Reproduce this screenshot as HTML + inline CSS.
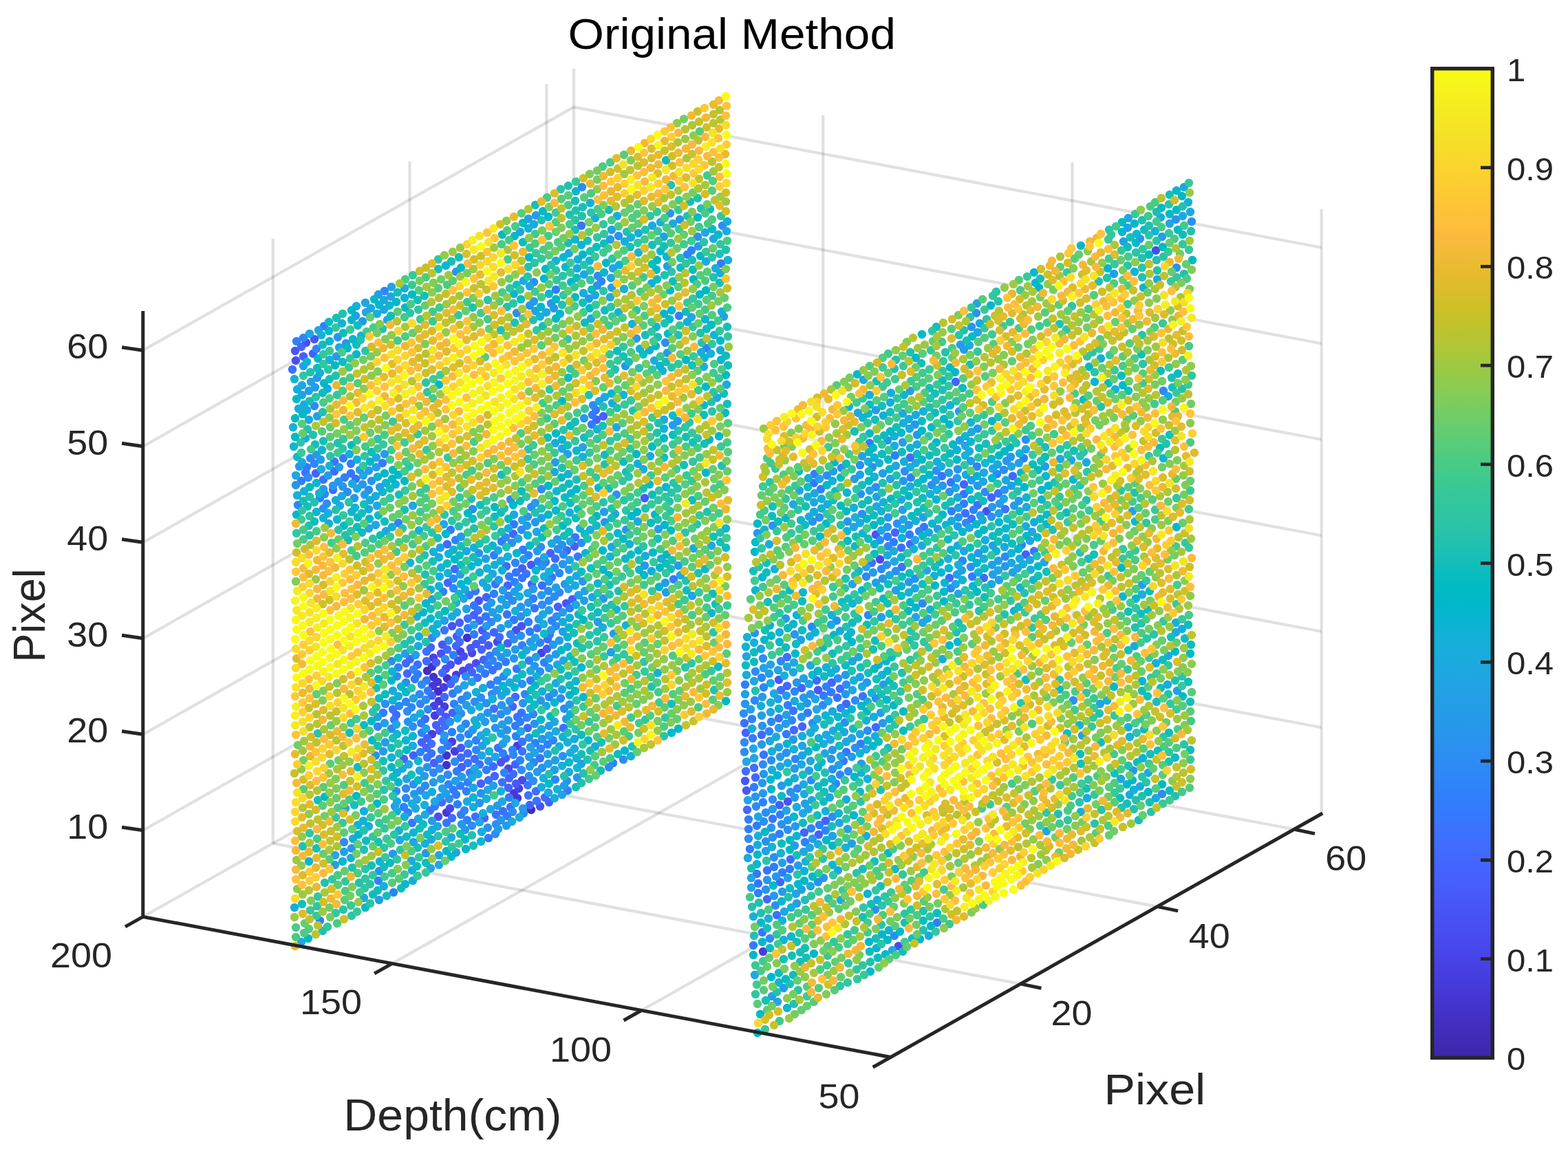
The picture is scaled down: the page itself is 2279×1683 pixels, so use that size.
<!DOCTYPE html>
<html lang="en"><head><meta charset="utf-8"><title>Original Method</title>
<style>html,body{margin:0;padding:0;background:#fff}svg{display:block}</style></head>
<body>
<svg width="2279" height="1683" viewBox="0 0 2279 1683">
<rect width="2279" height="1683" fill="#fff"/>
<g fill="none" stroke="#262626" stroke-opacity="0.14" stroke-width="4.2">
<path d="M207.8 1206.8L834 853.2"/>
<path d="M834 853.2L1920.7 1057.3"/>
<path d="M207.8 1067.3L834 713.7"/>
<path d="M834 713.7L1920.7 917.8"/>
<path d="M207.8 927.8L834 574.2"/>
<path d="M834 574.2L1920.7 778.3"/>
<path d="M207.8 788.3L834 434.7"/>
<path d="M834 434.7L1920.7 638.8"/>
<path d="M207.8 648.8L834 295.1"/>
<path d="M834 295.1L1920.7 499.2"/>
<path d="M207.8 509.2L834 155.6"/>
<path d="M834 155.6L1920.7 359.7"/>
<path d="M396.7 1225.8L396.7 346.8"/>
<path d="M396.7 1225.8L1483.4 1429.9"/>
<path d="M595.5 1113.5L595.5 234.5"/>
<path d="M595.5 1113.5L1682.2 1317.6"/>
<path d="M794.3 1001.2L794.3 122.3"/>
<path d="M794.3 1001.2L1881 1205.3"/>
<path d="M834 978.8L834 99.8"/>
<path d="M207.8 1332.4L834 978.8"/>
<path d="M1196.3 1046.8L1196.3 167.8"/>
<path d="M570 1400.4L1196.3 1046.8"/>
<path d="M1558.5 1114.9L1558.5 235.9"/>
<path d="M932.3 1468.5L1558.5 1114.9"/>
<path d="M1920.7 1182.9L1920.7 303.9"/>
</g>
<path fill="#fff" fill-opacity="0.6" d="M430.0 1375.5 L1055.9 1019.5 L1055.9 140.1 L430.0 496.0 Z"/>
<path fill="#fff" fill-opacity="0.3" d="M1103.5 1501.5 L1729.4 1145.5 L1729.4 266.1 L1103.5 622.0 Z"/>
<filter id="sf" x="0" y="0" width="2279" height="1683" filterUnits="userSpaceOnUse"><feGaussianBlur stdDeviation="0.7"/></filter>
<g fill="none" stroke-linecap="round" stroke-width="12.4" filter="url(#sf)">
<path stroke="#422ec0" d="M621 975h0M637 1005h0M772 1177h0"/>
<path stroke="#4332cb" d="M630 984h0M628 969h0M649 1112h0M649 1098h0M650 986h0M679 927h0"/>
<path stroke="#4537d5" d="M629 997h0M638 1019h0M636 991h0M649 1181h0M747 1153h0M752 1160h0"/>
<path stroke="#463cde" d="M628 1067h0M632 1040h0M646 1027h0M645 999h0M661 1092h0M663 981h0M752 1084h0M1109 1383h0"/>
<path stroke="#4741e5" d="M631 1026h0M630 956h0M657 1078h0M669 947h0M754 1146h0M787 949h0"/>
<path stroke="#4747eb" d="M654 1175h0M673 975h0M686 949h0M723 933h0M739 1117h0M759 1134h0M1279 813h0"/>
<path stroke="#484df0" d="M430 524h0M445 498h0M637 1187h0M666 960h0M674 954h0M692 964h0M750 916h0M1306 1375h0M1434 743h0M1680 364h0"/>
<path stroke="#4852f4" d="M641 950h0M648 972h0M655 966h0M657 910h0M682 970h0M696 873h0M728 1108h0M758 910h0M785 1172h0M823 877h0M1145 1165h0M1273 777h0"/>
<path stroke="#4758f8" d="M429 510h0M457 493h0M640 1034h0M643 937h0M648 1042h0M664 925h0M670 1087h0M684 942h0M692 936h0M701 916h0M710 938h0M735 1102h0M750 1139h0M772 821h0M795 943h0M937 724h0M1085 1149h0M1083 1135h0M1132 988h0M1189 1003h0"/>
<path stroke="#465efb" d="M441 518h0M455 514h0M601 1098h0M621 1073h0M631 1109h0M634 1054h0M634 963h0M658 1036h0M671 1115h0M668 905h0M689 894h0M699 1139h0M703 959h0M701 930h0M738 935h0M759 826h0M773 849h0M811 882h0M832 871h0M835 794h0M877 605h0M1133 1170h0M1190 1213h0M1200 1193h0M1491 806h0"/>
<path stroke="#4563fd" d="M438 504h0M459 688h0M587 1103h0M592 979h0M613 1079h0M620 1087h0M618 1045h0M628 1011h0M626 941h0M639 1062h0M650 944h0M651 847h0M655 994h0M663 939h0M686 977h0M700 944h0M697 902h0M704 1189h0M707 868h0M719 1128h0M718 919h0M739 1145h0M740 1131h0M738 851h0M749 1111h0M745 1027h0M746 776h0M770 1170h0M798 1166h0M800 804h0M824 800h0M867 610h0M1084 1065h0M1134 1282h0M1169 1210h0M1166 1056h0M1165 1000h0M1209 992h0M1230 1023h0M1301 774h0M1389 555h0M1401 704h0M1441 723h0"/>
<path stroke="#4269fe" d="M484 712h0M486 685h0M576 1039h0M590 964h0M596 958h0M620 961h0M643 1048h0M643 978h0M642 1166h0M646 1013h0M650 791h0M661 827h0M670 1101h0M668 933h0M680 1095h0M690 1103h0M717 1114h0M726 926h0M736 823h0M746 1125h0M749 1013h0M767 1058h0M792 1159h0M796 929h0M807 812h0M1086 1177h0M1098 1130h0M1115 1307h0M1107 1068h0M1149 1249h0M1144 997h0M1154 1061h0M1187 989h0M1273 1057h0M1323 791h0M1380 840h0M1430 840h0M1472 692h0"/>
<path stroke="#3e6fff" d="M425 537h0M470 697h0M517 696h0M607 966h0M620 947h0M625 1178h0M627 1095h0M627 1081h0M647 1055h0M657 1189h0M680 899h0M691 1187h0M694 985h0M695 887h0M721 1184h0M724 1087h0M718 1030h0M716 974h0M731 1179h0M730 1137h0M742 1173h0M752 1042h0M759 1092h0M759 1078h0M780 1164h0M779 1150h0M788 851h0M819 1058h0M1084 1121h0M1082 1051h0M1096 1116h0M1135 1003h0M1144 955h0M1217 1014h0M1221 1001h0M1267 818h0M1323 665h0M1403 746h0M1401 718h0M1421 734h0M1461 740h0"/>
<path stroke="#3875fe" d="M444 687h0M486 671h0M510 688h0M573 1046h0M571 1031h0M599 1196h0M621 1101h0M639 1103h0M649 1196h0M651 1084h0M646 916h0M680 1109h0M689 880h0M697 1111h0M691 859h0M710 1134h0M705 979h0M707 924h0M706 896h0M720 849h0M737 893h0M751 972h0M750 832h0M747 762h0M758 1036h0M759 840h0M768 1156h0M767 1141h0M765 834h0M781 913h0M777 884h0M785 1102h0M799 922h0M802 839h0M836 781h0M845 328h0M1108 1355h0M1102 1284h0M1100 1270h0M1115 1265h0M1110 1097h0M1129 1330h0M1123 1190h0M1132 1044h0M1153 1033h0M1226 1106h0M1230 1093h0M1254 1012h0M1311 824h0M1310 796h0M1343 766h0M1369 692h0M1382 701h0M1412 754h0M1451 717h0M1503 801h0"/>
<path stroke="#327cfc" d="M438 699h0M446 679h0M465 1338h0M499 666h0M557 1036h0M556 673h0M603 987h0M612 1051h0M607 980h0M622 1004h0M620 989h0M632 1172h0M659 1148h0M664 1121h0M658 1008h0M655 770h0M670 1184h0M663 1155h0M661 987h0M683 1123h0M680 913h0M689 922h0M682 865h0M710 1218h0M707 1119h0M712 953h0M718 807h0M724 968h0M729 787h0M737 1186h0M740 1159h0M735 962h0M740 838h0M749 1055h0M747 901h0M760 799h0M771 989h0M770 918h0M775 870h0M825 1149h0M840 809h0M860 617h0M861 603h0M866 596h0M979 842h0M1048 383h0M1095 1374h0M1090 1234h0M1083 995h0M1100 1200h0M1094 1073h0M1125 1260h0M1137 1268h0M1148 1263h0M1143 1067h0M1145 1025h0M1174 1036h0M1183 702h0M1184 689h0M1193 711h0M1197 1011h0M1208 1006h0M1251 1081h0M1264 644h0M1299 788h0M1322 777h0M1324 694h0M1362 1341h0M1413 838h0M1488 666h0"/>
<path stroke="#2f81fa" d="M431 496h0M465 724h0M471 474h0M501 694h0M510 674h0M550 1280h0M572 1297h0M579 760h0M587 1173h0M593 1181h0M611 1093h0M613 1065h0M644 860h0M657 1064h0M660 1023h0M659 952h0M665 1169h0M669 1142h0M679 1192h0M678 1150h0M680 1137h0M681 1067h0M692 1076h0M713 995h0M709 966h0M718 863h0M731 1095h0M750 1070h0M748 846h0M756 1105h0M756 1049h0M759 938h0M769 960h0M768 904h0M768 807h0M778 1080h0M782 816h0M791 963h0M796 1082h0M802 902h0M793 817h0M808 421h0M828 884h0M891 1109h0M987 459h0M999 370h0M1005 364h0M1027 506h0M1088 1205h0M1088 1191h0M1102 1298h0M1096 1144h0M1093 1045h0M1109 1166h0M1133 1212h0M1134 1184h0M1170 1224h0M1191 1199h0M1201 998h0M1290 780h0M1301 662h0M1383 743h0M1401 732h0M1415 741h0M1420 678h0M1485 792h0"/>
<path stroke="#2e87f7" d="M433 734h0M441 491h0M451 666h0M457 674h0M457 590h0M460 507h0M472 718h0M549 1056h0M559 423h0M569 1059h0M580 1026h0M579 970h0M590 1160h0M590 1020h0M598 1028h0M601 973h0M611 1023h0M618 1142h0M622 1031h0M630 1123h0M628 927h0M642 1090h0M645 1076h0M652 1140h0M659 855h0M662 785h0M671 1017h0M668 919h0M675 1178h0M677 1052h0M692 1090h0M698 972h0M723 989h0M716 960h0M714 904h0M733 1123h0M732 983h0M745 1090h0M742 922h0M739 866h0M746 1097h0M749 818h0M763 1009h0M761 1182h0M766 1043h0M776 1108h0M775 1038h0M786 1088h0M785 934h0M798 1013h0M807 1133h0M804 1076h0M808 910h0M813 861h0M813 833h0M874 409h0M1097 1018h0M1110 999h0M1107 985h0M1118 1063h0M1121 1049h0M1135 961h0M1159 1146h0M1156 1103h0M1151 1047h0M1155 1005h0M1179 1204h0M1180 911h0M1200 1207h0M1215 1139h0M1221 1126h0M1222 1029h0M1262 894h0M1259 838h0M1281 827h0M1291 794h0M1336 772h0M1341 877h0M1382 855h0M1399 815h0M1404 760h0M1449 689h0M1461 809h0M1691 568h0"/>
<path stroke="#2d8cf3" d="M448 694h0M475 732h0M500 1224h0M505 715h0M536 712h0M560 1023h0M569 961h0M577 983h0M590 1146h0M592 1034h0M590 992h0M600 1056h0M611 1149h0M610 1009h0M613 995h0M639 1117h0M651 1126h0M647 958h0M652 931h0M653 1161h0M661 1107h0M659 841h0M669 1072h0M670 1037h0M677 983h0M686 1200h0M690 1020h0M699 1014h0M715 1009h0M720 1212h0M721 1198h0M721 947h0M728 1038h0M735 781h0M742 726h0M745 1180h0M747 929h0M745 873h0M744 789h0M751 455h0M758 1119h0M757 896h0M758 770h0M772 737h0M775 1135h0M785 976h0M788 879h0M786 795h0M787 711h0M798 873h0M806 867h0M811 798h0M815 1015h0M819 806h0M845 789h0M846 272h0M862 589h0M869 401h0M885 1115h0M906 1104h0M967 498h0M1050 328h0M1088 1219h0M1082 1079h0M1099 1172h0M1098 976h0M1119 1364h0M1110 1194h0M1113 1181h0M1109 1111h0M1109 957h0M1127 1316h0M1125 1246h0M1123 1162h0M1121 1105h0M1179 1134h0M1181 1051h0M1196 1025h0M1210 1187h0M1210 1118h0M1218 986h0M1223 680h0M1233 1121h0M1228 1050h0M1230 995h0M1243 1018h0M1250 676h0M1261 1062h0M1300 1360h0M1302 830h0M1315 685h0M1330 841h0M1354 705h0M1361 684h0M1432 715h0M1689 1154h0"/>
<path stroke="#2b91ef" d="M470 739h0M491 490h0M540 699h0M551 1266h0M546 1098h0M576 1150h0M593 1049h0M601 1140h0M621 1115h0M619 1017h0M654 1049h0M666 1002h0M679 1011h0M687 740h0M697 1167h0M699 1153h0M696 804h0M709 1203h0M710 1106h0M709 1036h0M707 1022h0M708 882h0M722 1003h0M728 955h0M737 1061h0M759 994h0M757 924h0M769 1128h0M777 1052h0M776 410h0M788 1116h0M788 823h0M797 859h0M801 441h0M809 896h0M818 1099h0M820 1030h0M817 792h0M824 1135h0M868 415h0M896 719h0M899 343h0M910 770h0M1014 344h0M1082 1093h0M1081 1037h0M1097 920h0M1113 1223h0M1123 764h0M1123 1217h0M1136 1198h0M1145 1206h0M1149 1151h0M1143 1094h0M1181 758h0M1189 1282h0M1191 752h0M1202 691h0M1216 902h0M1243 1087h0M1253 747h0M1251 718h0M1272 1322h0M1273 1015h0M1273 708h0M1268 679h0M1279 785h0M1289 821h0M1304 761h0M1380 715h0M1411 824h0M1419 455h0M1441 751h0M1459 683h0M1491 639h0M1560 1018h0M1710 389h0M1732 322h0"/>
<path stroke="#2797eb" d="M430 705h0M435 678h0M461 549h0M484 706h0M492 700h0M498 707h0M503 499h0M511 1233h0M515 724h0M527 704h0M527 467h0M571 1241h0M602 1154h0M619 1240h0M640 1159h0M663 395h0M671 1198h0M670 780h0M676 1206h0M681 1081h0M687 1061h0M720 1058h0M728 1192h0M729 1025h0M728 913h0M737 1033h0M741 1019h0M747 957h0M760 1022h0M757 882h0M769 1072h0M771 933h0M767 751h0M770 444h0M777 968h0M778 759h0M788 1074h0M786 1018h0M798 971h0M798 845h0M805 1007h0M806 825h0M805 448h0M821 849h0M818 820h0M839 1130h0M849 608h0M877 870h0M879 759h0M909 532h0M937 822h0M970 513h0M974 310h0M988 319h0M1083 1023h0M1101 775h0M1098 1158h0M1113 1293h0M1115 1279h0M1109 1153h0M1108 1138h0M1110 1125h0M1108 1055h0M1128 1274h0M1121 1203h0M1136 1142h0M1145 1192h0M1155 1159h0M1153 1075h0M1158 992h0M1155 922h0M1165 1042h0M1173 1022h0M1178 1009h0M1197 1276h0M1208 1103h0M1210 1090h0M1229 1009h0M1232 758h0M1260 992h0M1283 841h0M1290 640h0M1313 699h0M1321 846h0M1321 763h0M1333 632h0M1330 617h0M1370 706h0M1393 752h0M1392 682h0M1412 475h0M1422 804h0M1421 706h0M1421 623h0M1461 823h0M1460 712h0M1463 670h0M1469 664h0M1647 1120h0M1657 347h0M1709 319h0"/>
<path stroke="#259be8" d="M460 661h0M458 563h0M470 711h0M466 668h0M477 691h0M489 518h0M493 679h0M517 459h0M536 684h0M551 1308h0M552 708h0M557 1092h0M560 1079h0M559 660h0M574 1172h0M589 950h0M617 1128h0M628 1193h0M630 1137h0M646 1069h0M646 902h0M671 1129h0M670 1059h0M678 1025h0M705 1049h0M707 910h0M723 1171h0M714 876h0M724 1205h0M723 898h0M731 858h0M725 843h0M736 1200h0M739 1047h0M749 944h0M760 1175h0M761 813h0M769 1100h0M768 876h0M766 764h0M781 1122h0M783 900h0M775 856h0M781 801h0M778 731h0M776 438h0M779 313h0M787 865h0M798 957h0M801 916h0M798 887h0M807 1105h0M808 951h0M804 937h0M810 784h0M807 672h0M820 1142h0M823 1045h0M813 931h0M818 890h0M828 1024h0M827 828h0M847 845h0M856 434h0M869 904h0M878 744h0M887 348h0M925 492h0M968 861h0M967 847h0M978 618h0M986 822h0M985 612h0M1015 358h0M1107 1082h0M1108 1013h0M1125 1302h0M1123 1176h0M1118 979h0M1139 1436h0M1137 1296h0M1134 1100h0M1142 1052h0M1143 1011h0M1142 899h0M1158 1313h0M1160 1258h0M1155 1229h0M1156 1201h0M1155 1117h0M1168 1014h0M1181 1219h0M1176 1120h0M1229 981h0M1238 1100h0M1242 696h0M1252 1110h0M1269 832h0M1283 1051h0M1284 995h0M1290 766h0M1291 752h0M1312 643h0M1363 769h0M1360 698h0M1391 695h0M1394 598h0M1396 501h0M1401 508h0M1412 698h0M1425 749h0M1442 737h0M1453 732h0M1474 735h0M1481 728h0M1660 850h0M1689 344h0"/>
<path stroke="#23a0e5" d="M439 574h0M441 532h0M449 568h0M452 555h0M461 605h0M487 1257h0M500 1238h0M523 683h0M530 719h0M549 1042h0M547 679h0M550 428h0M559 1051h0M591 1132h0M601 1015h0M604 952h0M619 1059h0M643 1146h0M641 1132h0M640 796h0M648 1153h0M662 1135h0M666 1030h0M669 835h0M678 885h0M686 991h0M689 908h0M701 1084h0M706 812h0M717 1142h0M718 1044h0M716 890h0M731 1081h0M728 1066h0M730 1053h0M729 871h0M737 949h0M739 907h0M736 879h0M748 860h0M754 853h0M756 337h0M770 1114h0M771 1086h0M768 318h0M779 955h0M778 452h0M787 753h0M797 1110h0M796 1096h0M798 1055h0M806 1119h0M808 854h0M817 1155h0M818 918h0M825 660h0M841 865h0M845 1110h0M849 873h0M888 948h0M892 921h0M889 418h0M889 334h0M957 769h0M970 387h0M965 344h0M1052 460h0M1083 1009h0M1091 1031h0M1122 1448h0M1113 1237h0M1107 1040h0M1137 1254h0M1132 1086h0M1132 1058h0M1131 1016h0M1145 1276h0M1143 1039h0M1165 1293h0M1170 1168h0M1166 1098h0M1168 986h0M1164 930h0M1210 1215h0M1211 685h0M1219 1112h0M1232 1205h0M1238 1226h0M1250 984h0M1250 690h0M1253 663h0M1273 847h0M1274 722h0M1273 596h0M1280 1036h0M1281 897h0M1283 688h0M1302 858h0M1312 741h0M1323 568h0M1342 752h0M1379 687h0M1391 835h0M1392 765h0M1393 738h0M1395 640h0M1398 829h0M1411 670h0M1443 835h0M1442 821h0M1443 793h0M1452 843h0M1451 815h0M1452 746h0M1472 832h0M1470 706h0M1481 673h0M1519 678h0M1573 1069h0M1619 398h0M1633 351h0M1639 331h0M1646 743h0M1711 1004h0"/>
<path stroke="#20a5e3" d="M430 691h0M438 1369h0M439 560h0M487 1243h0M493 505h0M512 703h0M528 691h0M532 454h0M531 440h0M536 768h0M546 763h0M548 735h0M547 665h0M558 450h0M568 431h0M569 417h0M581 1221h0M601 1224h0M594 1111h0M600 1084h0M600 735h0M608 1190h0M604 1175h0M606 1162h0M610 1120h0M619 1156h0M626 1262h0M627 1220h0M632 1165h0M638 1243h0M636 1201h0M634 921h0M645 762h0M664 890h0M675 996h0M674 870h0M678 801h0M700 1098h0M699 1069h0M699 1042h0M713 1176h0M709 1148h0M720 1100h0M716 834h0M729 1011h0M724 800h0M736 1074h0M749 1167h0M757 1063h0M759 756h0M765 945h0M767 862h0M770 416h0M777 1094h0M778 927h0M780 773h0M791 810h0M797 1152h0M798 1069h0M806 1049h0M817 652h0M826 856h0M828 814h0M829 787h0M850 859h0M847 650h0M849 399h0M859 463h0M888 404h0M891 390h0M896 621h0M927 758h0M1006 866h0M1005 461h0M1025 338h0M1034 793h0M1042 578h0M1092 1290h0M1092 1276h0M1087 1247h0M1087 1163h0M1085 1107h0M1085 954h0M1096 1102h0M1095 1088h0M1096 990h0M1110 971h0M1106 943h0M1130 1456h0M1119 1077h0M1120 1035h0M1125 1008h0M1120 966h0M1140 1325h0M1134 1114h0M1131 974h0M1143 1178h0M1144 969h0M1153 733h0M1157 1299h0M1153 977h0M1162 713h0M1168 1238h0M1167 1182h0M1166 1084h0M1178 1106h0M1176 994h0M1187 1031h0M1185 1016h0M1191 696h0M1201 1068h0M1206 1159h0M1207 1075h0M1204 1019h0M1222 1099h0M1215 972h0M1230 1078h0M1227 1064h0M1238 1073h0M1239 849h0M1241 766h0M1250 1067h0M1259 1089h0M1259 824h0M1264 713h0M1281 771h0M1297 1381h0M1294 696h0M1300 816h0M1302 677h0M1313 755h0M1310 726h0M1312 601h0M1331 897h0M1330 785h0M1331 673h0M1341 905h0M1347 829h0M1393 863h0M1389 849h0M1403 648h0M1409 767h0M1409 502h0M1421 483h0M1424 470h0M1420 441h0M1430 687h0M1441 849h0M1443 681h0M1451 829h0M1459 725h0M1470 678h0M1479 826h0M1491 653h0M1497 814h0M1497 786h0M1500 773h0M1518 817h0M1599 1023h0M1640 317h0M1700 325h0M1709 919h0"/>
<path stroke="#1ca9df" d="M439 672h0M442 588h0M449 610h0M450 485h0M463 480h0M467 682h0M494 735h0M497 721h0M513 1219h0M502 1175h0M519 710h0M536 740h0M561 772h0M563 465h0M558 436h0M571 1004h0M577 1165h0M576 1053h0M598 1251h0M602 1043h0M618 1184h0M628 871h0M638 1257h0M656 1217h0M657 896h0M663 1239h0M665 1044h0M679 1165h0M676 857h0M688 1145h0M686 1130h0M690 1117h0M685 1032h0M697 1195h0M695 1125h0M702 847h0M708 854h0M730 1165h0M726 885h0M728 815h0M741 992h0M744 1194h0M747 748h0M755 1188h0M753 783h0M761 408h0M771 975h0M775 940h0M776 326h0M794 1026h0M802 790h0M794 454h0M806 1160h0M808 1063h0M808 993h0M810 966h0M806 686h0M807 644h0M817 1002h0M819 960h0M827 1122h0M825 940h0M827 368h0M835 1088h0M837 879h0M838 837h0M848 426h0M861 868h0M858 770h0M871 583h0M865 429h0M879 577h0M889 795h0M887 432h0M894 747h0M897 314h0M945 663h0M951 524h0M948 328h0M965 610h0M989 836h0M1008 797h0M1026 380h0M1037 347h0M1056 559h0M1056 336h0M1097 1417h0M1102 1187h0M1145 1109h0M1158 1173h0M1155 1131h0M1169 1154h0M1168 1140h0M1165 1111h0M1178 1288h0M1177 1232h0M1175 1176h0M1180 1163h0M1178 967h0M1183 730h0M1184 717h0M1189 1227h0M1188 1045h0M1199 1095h0M1211 1062h0M1222 1308h0M1218 1265h0M1220 1196h0M1221 917h0M1239 1003h0M1239 961h0M1247 600h0M1253 998h0M1248 955h0M1250 760h0M1255 552h0M1272 1070h0M1274 736h0M1277 966h0M1293 836h0M1299 801h0M1322 623h0M1330 855h0M1333 646h0M1331 603h0M1340 793h0M1348 899h0M1350 774h0M1389 709h0M1401 801h0M1404 690h0M1412 628h0M1429 700h0M1470 818h0M1482 812h0M1491 765h0M1492 737h0M1541 667h0M1557 669h0M1579 672h0M1629 1132h0M1649 939h0M1657 1143h0M1680 1160h0M1682 406h0M1698 953h0M1719 314h0M1721 272h0M1730 308h0"/>
<path stroke="#18addb" d="M428 1319h0M434 594h0M432 566h0M442 714h0M444 637h0M446 596h0M465 542h0M478 761h0M476 565h0M488 727h0M510 1247h0M508 660h0M529 1305h0M529 1179h0M536 1201h0M538 727h0M539 448h0M546 721h0M558 1288h0M570 766h0M577 1179h0M577 1123h0M579 1012h0M588 1187h0M585 1117h0M588 419h0M600 1280h0M599 1265h0M611 1037h0M608 939h0M609 925h0M618 1226h0M628 1206h0M628 1151h0M639 838h0M638 810h0M688 1173h0M690 1047h0M700 1209h0M702 1000h0M736 1005h0M739 768h0M749 888h0M766 890h0M787 1144h0M787 1060h0M788 1005h0M789 893h0M813 1085h0M818 904h0M828 898h0M828 745h0M835 1074h0M836 851h0M843 768h0M839 390h0M840 377h0M865 1085h0M865 317h0M890 586h0M908 351h0M927 674h0M928 339h0M938 808h0M935 682h0M947 830h0M944 509h0M947 412h0M978 325h0M999 468h0M1019 512h0M1047 509h0M1047 397h0M1057 322h0M1085 981h0M1101 1228h0M1093 1059h0M1106 1026h0M1118 791h0M1122 1119h0M1122 1092h0M1120 993h0M1128 1071h0M1155 1019h0M1154 963h0M1166 1070h0M1164 1027h0M1176 751h0M1175 695h0M1183 744h0M1184 1058h0M1203 733h0M1209 1132h0M1210 1034h0M1230 1162h0M1259 1215h0M1270 1042h0M1284 604h0M1290 807h0M1294 585h0M1295 571h0M1300 648h0M1311 782h0M1314 671h0M1323 707h0M1321 609h0M1350 1360h0M1362 671h0M1370 958h0M1368 678h0M1383 757h0M1392 793h0M1392 723h0M1391 654h0M1409 656h0M1432 785h0M1428 756h0M1450 675h0M1460 795h0M1462 698h0M1503 759h0M1521 1208h0M1580 1160h0M1600 521h0M1642 1155h0M1669 1123h0M1687 316h0M1697 995h0M1698 576h0M1709 905h0M1718 914h0"/>
<path stroke="#12b1d6" d="M432 720h0M426 621h0M428 551h0M470 753h0M468 654h0M467 487h0M477 746h0M479 677h0M479 523h0M497 470h0M520 1199h0M516 738h0M519 668h0M525 488h0M518 445h0M528 1193h0M552 1252h0M548 456h0M569 1101h0M580 1207h0M575 704h0M588 433h0M599 1168h0M596 818h0M606 896h0M609 771h0M617 1170h0M630 802h0M636 907h0M641 825h0M651 833h0M663 876h0M692 1006h0M689 796h0M702 1182h0M697 1027h0M697 832h0M707 1161h0M711 1092h0M707 1077h0M707 1064h0M708 826h0M716 1016h0M728 1150h0M737 977h0M738 809h0M755 867h0M771 1030h0M768 332h0M790 1131h0M790 907h0M791 838h0M785 460h0M798 831h0M810 1147h0M808 379h0M817 1113h0M829 1094h0M825 1079h0M826 689h0M838 1102h0M847 664h0M857 379h0M858 295h0M868 624h0M876 912h0M887 809h0M896 886h0M899 454h0M910 909h0M906 574h0M907 420h0M917 1099h0M915 791h0M919 471h0M917 345h0M930 507h0M928 367h0M956 978h0M961 812h0M960 323h0M965 623h0M963 539h0M1023 533h0M1024 520h0M1033 514h0M1038 487h0M1040 390h0M1049 453h0M1055 768h0M1058 378h0M1095 1332h0M1084 940h0M1086 926h0M1102 1215h0M1096 934h0M1111 770h0M1117 1335h0M1122 1231h0M1126 827h0M1137 1338h0M1135 1240h0M1133 919h0M1150 1319h0M1140 982h0M1154 1089h0M1158 894h0M1164 756h0M1171 1252h0M1174 722h0M1178 1065h0M1177 925h0M1194 725h0M1200 1179h0M1197 1081h0M1201 970h0M1208 908h0M1209 894h0M1210 699h0M1219 1182h0M1229 1232h0M1234 591h0M1241 989h0M1237 919h0M1239 877h0M1243 752h0M1241 738h0M1252 1123h0M1248 830h0M1254 775h0M1261 1132h0M1259 1047h0M1261 1020h0M1267 1007h0M1262 671h0M1264 574h0M1275 1308h0M1271 693h0M1282 981h0M1281 743h0M1284 730h0M1278 673h0M1292 1352h0M1300 634h0M1313 615h0M1321 861h0M1323 679h0M1331 757h0M1342 598h0M1352 718h0M1358 837h0M1362 712h0M1378 812h0M1381 589h0M1393 821h0M1403 662h0M1403 634h0M1411 614h0M1422 832h0M1430 812h0M1470 804h0M1483 854h0M1482 659h0M1487 820h0M1498 828h0M1571 1180h0M1609 1018h0M1621 566h0M1642 1071h0M1640 1057h0M1648 1148h0M1649 395h0M1660 864h0M1680 964h0M1679 336h0M1727 294h0"/>
<path stroke="#08b5d0" d="M427 649h0M449 1252h0M446 526h0M460 744h0M464 717h0M460 702h0M479 496h0M490 755h0M498 1252h0M511 744h0M549 693h0M551 443h0M556 715h0M561 702h0M571 1018h0M570 976h0M566 444h0M577 1067h0M589 1285h0M590 1076h0M590 1006h0M601 1210h0M600 1070h0M608 1106h0M629 914h0M626 857h0M638 852h0M652 805h0M648 386h0M659 799h0M667 863h0M688 1159h0M685 823h0M699 1223h0M693 1054h0M695 817h0M719 821h0M716 793h0M751 986h0M747 427h0M769 1016h0M767 778h0M780 983h0M798 427h0M808 742h0M809 714h0M818 1071h0M817 639h0M819 374h0M828 843h0M839 1116h0M837 990h0M838 655h0M836 348h0M837 278h0M848 1013h0M845 970h0M851 804h0M845 356h0M869 848h0M870 709h0M878 396h0M900 385h0M909 812h0M959 532h0M954 475h0M968 708h0M969 373h0M1025 827h0M1025 464h0M1034 891h0M1048 523h0M1098 858h0M1100 1256h0M1132 1428h0M1120 1021h0M1144 1465h0M1139 1366h0M1136 1310h0M1132 1030h0M1150 1361h0M1158 1215h0M1154 1187h0M1169 1266h0M1167 861h0M1175 1092h0M1181 981h0M1190 1073h0M1185 919h0M1194 739h0M1200 1040h0M1210 1257h0M1210 1146h0M1208 978h0M1218 1042h0M1229 1037h0M1231 772h0M1231 716h0M1243 794h0M1246 544h0M1250 1095h0M1254 607h0M1265 1412h0M1261 1299h0M1264 630h0M1262 601h0M1274 1378h0M1271 665h0M1293 1045h0M1310 852h0M1312 769h0M1310 629h0M1314 574h0M1323 651h0M1328 798h0M1352 886h0M1355 761h0M1361 726h0M1373 847h0M1375 763h0M1379 826h0M1392 933h0M1399 843h0M1412 726h0M1411 642h0M1431 798h0M1441 667h0M1462 782h0M1462 768h0M1474 888h0M1492 723h0M1502 843h0M1503 396h0M1514 726h0M1514 712h0M1521 762h0M1522 748h0M1520 692h0M1560 697h0M1569 1054h0M1571 357h0M1591 555h0M1632 867h0M1651 353h0M1652 340h0M1661 1102h0M1660 990h0M1662 418h0M1691 666h0"/>
<path stroke="#01b8ca" d="M431 748h0M440 602h0M462 521h0M471 557h0M478 481h0M505 506h0M513 493h0M511 465h0M521 1213h0M518 1157h0M520 752h0M518 515h0M537 754h0M538 671h0M544 435h0M559 688h0M569 1115h0M579 1137h0M579 690h0M615 890h0M619 877h0M626 899h0M638 559h0M649 1237h0M648 776h0M656 1245h0M661 813h0M670 849h0M677 1234h0M680 844h0M680 746h0M731 997h0M730 829h0M748 999h0M751 804h0M748 343h0M759 952h0M770 793h0M779 829h0M786 446h0M791 405h0M800 1041h0M797 315h0M806 1021h0M806 728h0M816 694h0M814 456h0M827 1108h0M829 1038h0M828 1010h0M825 926h0M827 912h0M830 717h0M830 410h0M847 370h0M855 1076h0M867 750h0M877 828h0M876 800h0M889 572h0M898 775h0M908 1091h0M918 750h0M929 828h0M928 800h0M926 744h0M936 836h0M949 803h0M952 748h0M944 704h0M958 853h0M954 392h0M960 365h0M966 763h0M965 637h0M971 485h0M965 456h0M976 1065h0M976 451h0M1017 428h0M1026 687h0M1023 589h0M1026 562h0M1031 639h0M1045 634h0M1047 495h0M1044 341h0M1055 545h0M1101 1501h0M1097 802h0M1101 761h0M1108 1369h0M1106 1341h0M1101 1242h0M1108 839h0M1121 1420h0M1111 930h0M1121 1147h0M1120 1133h0M1119 909h0M1130 1127h0M1133 933h0M1142 753h0M1148 1235h0M1146 1137h0M1144 1081h0M1160 1285h0M1153 907h0M1169 1280h0M1183 1386h0M1189 1115h0M1189 975h0M1201 1221h0M1194 1108h0M1201 761h0M1213 672h0M1220 1056h0M1222 694h0M1232 925h0M1241 1185h0M1242 1129h0M1238 1031h0M1238 933h0M1252 1026h0M1253 858h0M1263 1369h0M1269 1084h0M1271 791h0M1269 651h0M1282 1358h0M1290 1366h0M1291 1240h0M1289 1017h0M1288 961h0M1294 627h0M1299 1025h0M1308 1354h0M1310 810h0M1320 888h0M1331 883h0M1331 520h0M1337 1365h0M1342 696h0M1353 1346h0M1351 690h0M1354 621h0M1361 643h0M1372 874h0M1372 860h0M1368 832h0M1366 817h0M1370 748h0M1382 799h0M1385 646h0M1381 534h0M1391 668h0M1399 773h0M1414 852h0M1412 810h0M1409 712h0M1420 818h0M1422 776h0M1420 692h0M1442 695h0M1442 612h0M1440 444h0M1448 801h0M1452 759h0M1468 650h0M1489 708h0M1505 411h0M1509 823h0M1508 781h0M1510 418h0M1524 706h0M1611 557h0M1610 390h0M1619 998h0M1631 337h0M1638 1140h0M1646 1134h0M1651 870h0M1650 758h0M1649 325h0M1700 311h0M1710 766h0M1710 277h0M1730 950h0"/>
<path stroke="#02bac3" d="M429 635h0M429 608h0M431 580h0M448 1364h0M450 708h0M472 1158h0M487 531h0M500 764h0M511 647h0M511 451h0M531 1319h0M541 1076h0M540 1048h0M548 1168h0M550 987h0M567 1254h0M569 989h0M570 696h0M571 683h0M583 998h0M576 439h0M591 1090h0M588 699h0M589 447h0M599 428h0M608 1134h0M647 888h0M670 389h0M676 1220h0M719 737h0M728 941h0M730 341h0M739 754h0M746 734h0M760 324h0M769 374h0M778 996h0M786 1046h0M791 768h0M793 391h0M789 307h0M798 1139h0M797 748h0M797 706h0M808 630h0M808 463h0M808 435h0M816 945h0M818 764h0M817 583h0M822 388h0M836 1004h0M841 893h0M838 711h0M836 432h0M848 901h0M857 448h0M860 421h0M881 382h0M885 836h0M906 783h0M925 660h0M948 649h0M959 825h0M953 503h0M955 378h0M969 806h0M975 771h0M973 464h0M974 422h0M986 1059h0M997 523h0M1008 406h0M1018 372h0M1014 316h0M1026 422h0M1034 472h0M1035 333h0M1055 1019h0M1054 600h0M1105 1474h0M1095 1388h0M1098 788h0M1112 1209h0M1124 1287h0M1121 924h0M1142 1423h0M1148 1221h0M1156 950h0M1181 1274h0M1186 1086h0M1192 780h0M1196 941h0M1202 705h0M1210 1229h0M1212 923h0M1222 735h0M1232 786h0M1230 743h0M1261 1076h0M1260 1034h0M1260 754h0M1263 699h0M1263 657h0M1271 972h0M1270 763h0M1287 1387h0M1284 870h0M1293 989h0M1290 975h0M1295 725h0M1293 682h0M1291 668h0M1313 1034h0M1323 875h0M1321 721h0M1341 779h0M1340 668h0M1340 626h0M1340 486h0M1359 851h0M1372 609h0M1380 938h0M1381 659h0M1380 617h0M1388 541h0M1420 860h0M1419 762h0M1430 770h0M1452 662h0M1460 656h0M1480 798h0M1480 700h0M1484 687h0M1492 779h0M1509 683h0M1540 1002h0M1575 581h0M1583 533h0M1630 825h0M1632 560h0M1631 323h0M1669 1151h0M1670 370h0M1689 1140h0M1690 359h0M1688 302h0M1708 947h0M1712 334h0M1710 305h0M1719 1012h0M1718 285h0M1733 378h0"/>
<path stroke="#0bbdbd" d="M432 664h0M457 758h0M461 535h0M469 571h0M469 501h0M478 468h0M498 526h0M499 484h0M506 785h0M520 1115h0M519 766h0M518 501h0M520 473h0M532 1222h0M529 1054h0M526 774h0M542 1300h0M540 657h0M549 1294h0M551 1015h0M553 778h0M550 749h0M558 1260h0M560 1009h0M559 758h0M571 1129h0M568 459h0M583 1291h0M579 956h0M591 1216h0M589 1062h0M606 1259h0M619 1254h0M621 1213h0M615 1198h0M618 905h0M650 819h0M669 1212h0M670 821h0M668 807h0M687 754h0M719 751h0M728 745h0M759 980h0M756 728h0M758 714h0M757 435h0M760 352h0M772 1003h0M779 1066h0M777 1024h0M791 921h0M788 781h0M796 636h0M815 973h0M821 723h0M828 996h0M826 982h0M829 954h0M827 773h0M829 731h0M827 703h0M829 619h0M826 549h0M839 935h0M837 753h0M840 740h0M838 404h0M845 1068h0M845 831h0M850 776h0M850 469h0M869 890h0M867 764h0M867 359h0M873 1120h0M879 661h0M879 451h0M878 354h0M898 1096h0M897 510h0M906 671h0M917 806h0M935 515h0M946 760h0M948 719h0M948 384h0M955 406h0M968 819h0M965 665h0M968 233h0M978 632h0M978 604h0M978 409h0M989 389h0M998 858h0M997 453h0M1006 727h0M1007 392h0M1003 293h0M1023 603h0M1027 478h0M1040 878h0M1036 863h0M1032 304h0M1044 969h0M1055 796h0M1052 572h0M1058 531h0M1055 517h0M1084 967h0M1096 962h0M1096 948h0M1119 1378h0M1114 832h0M1122 750h0M1132 1414h0M1131 758h0M1136 1226h0M1136 1157h0M1153 1417h0M1148 1291h0M1142 941h0M1145 913h0M1148 858h0M1157 936h0M1161 685h0M1167 1196h0M1166 916h0M1166 874h0M1170 763h0M1174 708h0M1188 1185h0M1189 1143h0M1197 1165h0M1198 1137h0M1198 983h0M1210 950h0M1214 714h0M1220 1084h0M1224 875h0M1229 967h0M1230 674h0M1240 1059h0M1239 905h0M1250 1151h0M1264 1383h0M1260 908h0M1262 783h0M1262 727h0M1263 685h0M1264 588h0M1276 1392h0M1272 931h0M1271 805h0M1270 749h0M1277 1078h0M1279 855h0M1280 757h0M1282 660h0M1285 633h0M1291 849h0M1301 1263h0M1296 955h0M1313 1062h0M1310 866h0M1311 838h0M1314 713h0M1311 657h0M1326 1364h0M1322 833h0M1325 750h0M1334 744h0M1334 702h0M1333 660h0M1342 1338h0M1341 849h0M1341 724h0M1340 612h0M1351 662h0M1362 1327h0M1359 600h0M1370 553h0M1378 784h0M1399 564h0M1410 796h0M1413 489h0M1423 651h0M1431 868h0M1431 826h0M1429 728h0M1432 673h0M1443 779h0M1452 773h0M1450 647h0M1471 790h0M1472 762h0M1482 743h0M1501 675h0M1512 754h0M1519 664h0M1551 1066h0M1550 745h0M1570 1096h0M1600 1079h0M1628 1160h0M1630 546h0M1639 359h0M1653 1108h0M1663 1060h0M1658 892h0M1663 334h0M1668 886h0M1671 859h0M1683 1091h0M1687 1000h0M1690 959h0M1686 651h0M1687 539h0M1700 1149h0M1699 1065h0M1708 1101h0M1712 543h0M1722 928h0M1719 341h0M1730 1090h0M1727 991h0M1731 937h0M1727 908h0"/>
<path stroke="#19bfb6" d="M439 1314h0M441 728h0M447 736h0M450 583h0M460 1233h0M462 1163h0M458 646h0M470 641h0M479 551h0M489 462h0M508 1065h0M515 1170h0M526 746h0M529 733h0M540 1258h0M550 1224h0M549 1084h0M547 1000h0M562 1302h0M557 1106h0M569 1087h0M571 1073h0M567 710h0M580 719h0M578 425h0M588 741h0M598 1126h0M607 1232h0M610 1204h0M607 436h0M617 430h0M626 885h0M629 816h0M638 894h0M636 782h0M637 391h0M656 380h0M670 794h0M667 374h0M688 1229h0M688 810h0M698 734h0M710 841h0M708 798h0M729 773h0M729 690h0M751 414h0M778 298h0M789 474h0M820 779h0M818 709h0M825 647h0M826 353h0M837 1144h0M835 962h0M834 920h0M838 697h0M836 613h0M836 334h0M836 292h0M845 1096h0M849 636h0M847 440h0M847 301h0M858 1091h0M859 882h0M859 826h0M854 350h0M874 1079h0M876 619h0M886 850h0M889 753h0M885 710h0M885 305h0M899 859h0M910 686h0M906 518h0M914 526h0M916 359h0M935 710h0M938 487h0M948 356h0M956 783h0M956 490h0M968 526h0M965 358h0M976 1023h0M975 827h0M994 676h0M997 635h0M1007 643h0M1006 531h0M1006 378h0M1024 645h0M1037 780h0M1047 788h0M1046 411h0M1057 587h0M1057 475h0M1092 1262h0M1095 830h0M1113 1454h0M1115 1349h0M1112 916h0M1116 875h0M1114 818h0M1123 736h0M1139 1394h0M1151 1389h0M1163 1398h0M1163 1384h0M1158 1369h0M1158 1243h0M1172 1392h0M1170 1378h0M1167 1126h0M1171 736h0M1198 1151h0M1198 1053h0M1209 1201h0M1206 1047h0M1211 727h0M1233 870h0M1244 780h0M1242 627h0M1254 1333h0M1254 1263h0M1251 970h0M1247 899h0M1253 733h0M1253 705h0M1266 1314h0M1262 978h0M1273 1364h0M1271 1252h0M1274 987h0M1269 944h0M1272 610h0M1274 554h0M1280 1288h0M1281 1009h0M1282 590h0M1291 1087h0M1293 892h0M1290 877h0M1294 599h0M1299 997h0M1303 621h0M1312 1383h0M1315 1341h0M1343 738h0M1342 682h0M1339 528h0M1351 564h0M1359 824h0M1359 572h0M1361 475h0M1374 735h0M1373 665h0M1371 595h0M1382 729h0M1393 905h0M1405 495h0M1410 530h0M1422 721h0M1433 645h0M1451 787h0M1464 754h0M1481 882h0M1491 988h0M1509 837h0M1513 670h0M1512 405h0M1521 831h0M1519 650h0M1561 655h0M1571 1110h0M1579 1146h0M1582 812h0M1590 806h0M1620 1124h0M1638 1168h0M1640 945h0M1640 889h0M1640 568h0M1643 345h0M1655 1192h0M1660 1004h0M1659 515h0M1671 1166h0M1672 1096h0M1668 1012h0M1681 1020h0M1681 308h0M1702 926h0M1700 632h0M1704 563h0M1703 549h0M1700 283h0M1730 1020h0"/>
<path stroke="#24c1ae" d="M440 1230h0M449 764h0M450 722h0M447 624h0M451 541h0M457 730h0M455 632h0M469 1353h0M472 1283h0M469 599h0M488 741h0M491 644h0M488 546h0M502 778h0M498 456h0M512 1261h0M522 1283h0M529 1235h0M529 1207h0M524 494h0M556 478h0M580 1095h0M588 936h0M585 768h0M597 930h0M619 933h0M618 835h0M617 807h0M667 765h0M686 1214h0M689 768h0M685 725h0M687 447h0M697 790h0M728 480h0M736 795h0M733 739h0M737 446h0M748 469h0M759 966h0M768 388h0M779 1010h0M777 842h0M778 745h0M775 465h0M787 739h0M787 320h0M798 1125h0M807 1091h0M820 1128h0M815 987h0M817 680h0M817 443h0M825 1065h0M825 758h0M828 312h0M826 270h0M838 907h0M837 306h0M845 1138h0M848 1124h0M846 942h0M846 314h0M854 1104h0M860 896h0M854 783h0M861 756h0M856 574h0M858 393h0M858 365h0M868 918h0M880 884h0M879 675h0M877 591h0M889 879h0M889 739h0M897 593h0M894 537h0M911 337h0M919 1085h0M920 597h0M929 814h0M938 739h0M938 334h0M947 998h0M956 755h0M955 629h0M957 615h0M966 470h0M966 400h0M977 814h0M973 729h0M975 269h0M986 487h0M989 375h0M997 844h0M999 314h0M1015 833h0M1020 498h0M1018 484h0M1019 303h0M1014 288h0M1028 744h0M1038 1003h0M1034 584h0M1037 403h0M1047 774h0M1049 677h0M1046 369h0M1055 363h0M1096 1360h0M1093 1318h0M1106 1327h0M1103 1312h0M1098 1004h0M1129 1442h0M1129 870h0M1154 1459h0M1148 1430h0M1146 1304h0M1170 1308h0M1199 1123h0M1222 763h0M1230 911h0M1229 841h0M1238 975h0M1243 836h0M1248 872h0M1265 1398h0M1264 741h0M1275 638h0M1280 1148h0M1282 716h0M1283 702h0M1303 705h0M1303 691h0M1300 536h0M1302 523h0M1311 978h0M1322 930h0M1320 735h0M1323 512h0M1333 730h0M1342 1352h0M1342 1324h0M1355 649h0M1351 592h0M1364 755h0M1361 657h0M1370 567h0M1374 512h0M1390 919h0M1401 480h0M1423 888h0M1432 854h0M1460 893h0M1479 714h0M1489 862h0M1507 808h0M1530 770h0M1533 701h0M1538 1183h0M1540 471h0M1579 727h0M1598 1037h0M1600 591h0M1597 409h0M1609 404h0M1630 1174h0M1640 1113h0M1648 1176h0M1651 1163h0M1650 912h0M1649 716h0M1660 1157h0M1660 403h0M1660 375h0M1660 320h0M1670 328h0M1682 393h0M1681 378h0M1699 1107h0M1698 1009h0M1695 645h0M1708 1157h0M1708 989h0M1718 565h0M1721 398h0M1719 300h0M1731 336h0"/>
<path stroke="#2cc4a7" d="M437 643h0M450 778h0M450 750h0M462 1066h0M459 577h0M480 663h0M477 537h0M492 770h0M499 1322h0M498 652h0M511 1331h0M510 772h0M507 730h0M531 1263h0M531 510h0M538 1313h0M538 1285h0M542 1035h0M542 783h0M547 1028h0M549 638h0M558 1232h0M558 1148h0M557 1120h0M573 1213h0M571 1157h0M579 1081h0M598 1000h0M597 944h0M595 678h0M596 455h0M619 556h0M628 774h0M637 1215h0M648 1223h0M646 748h0M657 757h0M709 436h0M716 1072h0M718 765h0M746 441h0M768 653h0M767 402h0M779 787h0M777 382h0M801 385h0M819 625h0M818 401h0M815 275h0M837 1060h0M838 1018h0M836 320h0M849 385h0M857 923h0M858 407h0M859 309h0M868 932h0M869 862h0M877 730h0M877 423h0M886 864h0M888 446h0M890 376h0M910 742h0M907 727h0M914 693h0M929 535h0M925 451h0M935 794h0M965 1070h0M974 743h0M976 716h0M979 702h0M976 534h0M976 395h0M985 710h0M986 626h0M996 970h0M996 774h0M1002 614h0M1013 762h0M1014 637h0M1023 352h0M1037 919h0M1035 598h0M1037 570h0M1035 374h0M1103 824h0M1119 701h0M1114 1251h0M1160 1439h0M1159 1271h0M1160 741h0M1163 971h0M1191 1157h0M1196 1248h0M1210 964h0M1230 1190h0M1229 883h0M1228 855h0M1245 1269h0M1236 1044h0M1242 892h0M1245 711h0M1251 1193h0M1251 1165h0M1259 1117h0M1275 1001h0M1281 1372h0M1281 1344h0M1282 1316h0M1286 1303h0M1293 1059h0M1288 1030h0M1290 1003h0M1291 738h0M1301 1053h0M1301 732h0M1304 719h0M1315 1328h0M1309 1005h0M1324 917h0M1343 710h0M1352 1332h0M1348 787h0M1350 746h0M1352 579h0M1355 481h0M1362 796h0M1380 673h0M1389 807h0M1387 778h0M1390 583h0M1394 487h0M1399 913h0M1403 858h0M1409 879h0M1411 865h0M1410 461h0M1422 665h0M1434 464h0M1441 765h0M1450 703h0M1451 606h0M1451 438h0M1448 424h0M1472 637h0M1484 1022h0M1477 644h0M1511 642h0M1541 653h0M1552 661h0M1550 479h0M1558 445h0M1569 1166h0M1570 803h0M1570 705h0M1570 663h0M1575 657h0M1591 1197h0M1591 541h0M1588 512h0M1601 1177h0M1612 334h0M1629 713h0M1639 386h0M1652 1065h0M1651 367h0M1660 1129h0M1659 906h0M1661 529h0M1660 487h0M1660 389h0M1673 1180h0M1666 1137h0M1667 928h0M1670 342h0M1677 922h0M1681 350h0M1691 1071h0M1691 373h0M1699 297h0M1721 1082h0M1718 983h0"/>
<path stroke="#31c69f" d="M431 775h0M439 742h0M441 546h0M450 1211h0M461 1317h0M462 1303h0M470 529h0M470 515h0M476 1347h0M483 1278h0M488 1327h0M490 574h0M488 476h0M502 1281h0M499 749h0M509 521h0M530 1291h0M531 1277h0M528 677h0M530 663h0M542 1272h0M542 1216h0M551 1196h0M559 1204h0M561 1135h0M567 724h0M577 1249h0M582 1235h0M609 1246h0M607 631h0M608 450h0M620 766h0M621 570h0M637 866h0M637 377h0M657 1231h0M668 723h0M666 458h0M677 759h0M706 784h0M707 742h0M741 419h0M756 421h0M765 722h0M767 667h0M780 480h0M787 1032h0M798 999h0M799 566h0M809 407h0M808 393h0M819 429h0M825 493h0M836 976h0M836 823h0M836 641h0M847 1082h0M857 658h0M857 630h0M866 694h0M868 638h0M868 345h0M878 340h0M877 326h0M888 906h0M887 641h0M886 515h0M897 956h0M897 635h0M907 951h0M911 826h0M905 699h0M906 504h0M916 652h0M927 353h0M938 1046h0M936 962h0M948 537h0M947 482h0M945 314h0M957 727h0M958 713h0M957 350h0M956 336h0M967 1043h0M968 833h0M967 722h0M975 353h0M986 529h0M988 473h0M996 621h0M997 383h0M1005 964h0M1007 671h0M1007 475h0M1035 500h0M1046 481h0M1047 355h0M1048 314h0M1058 489h0M1098 1445h0M1107 797h0M1105 782h0M1129 1358h0M1129 772h0M1133 891h0M1138 864h0M1142 725h0M1144 1122h0M1150 775h0M1163 728h0M1179 1302h0M1177 1246h0M1177 1148h0M1190 1269h0M1204 1306h0M1202 747h0M1212 1369h0M1211 1272h0M1208 754h0M1221 1433h0M1218 1070h0M1219 944h0M1232 1428h0M1233 1400h0M1232 1358h0M1230 939h0M1245 1409h0M1242 864h0M1254 1403h0M1255 1319h0M1249 1137h0M1252 1040h0M1255 635h0M1261 852h0M1261 615h0M1273 1294h0M1271 903h0M1279 1022h0M1282 646h0M1294 948h0M1300 969h0M1302 900h0M1304 579h0M1312 1271h0M1306 1019h0M1324 1322h0M1323 959h0M1319 804h0M1329 938h0M1332 715h0M1343 1045h0M1343 933h0M1352 816h0M1351 676h0M1350 634h0M1352 606h0M1353 509h0M1359 782h0M1370 581h0M1370 539h0M1379 631h0M1381 603h0M1379 561h0M1379 547h0M1392 612h0M1402 676h0M1412 447h0M1422 846h0M1421 790h0M1421 511h0M1430 603h0M1441 807h0M1441 653h0M1442 626h0M1443 430h0M1461 837h0M1469 873h0M1472 720h0M1500 912h0M1513 768h0M1521 1181h0M1522 734h0M1529 1133h0M1540 988h0M1539 736h0M1540 722h0M1540 680h0M1552 1192h0M1551 647h0M1582 1133h0M1579 1007h0M1580 686h0M1580 518h0M1620 1040h0M1615 341h0M1630 364h0M1651 884h0M1661 362h0M1666 844h0M1666 760h0M1691 903h0M1699 1093h0M1701 1023h0M1698 967h0M1710 724h0M1710 403h0M1723 789h0M1719 355h0M1732 546h0"/>
<path stroke="#37c897" d="M438 658h0M451 1323h0M460 1331h0M479 510h0M488 1188h0M498 1196h0M499 638h0M499 554h0M510 1316h0M510 1051h0M508 758h0M507 534h0M509 479h0M519 1325h0M519 640h0M539 1188h0M549 652h0M560 1246h0M562 1219h0M557 646h0M567 780h0M571 613h0M576 802h0M588 1271h0M589 1201h0M588 908h0M589 713h0M599 414h0M600 400h0M607 1273h0M609 911h0M610 813h0M619 1268h0M617 849h0M619 710h0M620 654h0M629 467h0M651 665h0M676 829h0M678 815h0M679 439h0M707 728h0M720 779h0M770 360h0M779 368h0M787 990h0M787 376h0M795 608h0M806 658h0M816 750h0M829 1052h0M829 536h0M829 396h0M829 382h0M838 669h0M835 417h0M837 264h0M848 1027h0M846 887h0M850 594h0M856 1049h0M856 937h0M866 443h0M865 373h0M878 954h0M878 926h0M886 780h0M885 766h0M887 543h0M887 529h0M890 460h0M897 942h0M897 789h0M898 524h0M908 881h0M904 838h0M908 756h0M908 588h0M915 777h0M916 722h0M916 680h0M917 582h0M937 976h0M935 403h0M948 859h0M950 817h0M947 733h0M946 691h0M956 643h0M960 518h0M955 308h0M968 750h0M978 646h0M986 305h0M995 872h0M998 691h0M999 440h0M1006 699h0M1006 629h0M1008 518h0M1007 434h0M1016 861h0M1017 749h0M1026 366h0M1034 975h0M1048 649h0M1045 550h0M1057 880h0M1098 1403h0M1112 1496h0M1127 681h0M1122 952h0M1119 938h0M1135 905h0M1145 885h0M1156 706h0M1162 1356h0M1162 769h0M1171 1322h0M1183 772h0M1185 1170h0M1190 1101h0M1189 905h0M1193 767h0M1203 1389h0M1196 1234h0M1202 928h0M1204 935h0M1211 853h0M1225 1294h0M1219 1224h0M1228 1134h0M1246 1423h0M1238 682h0M1256 1417h0M1251 942h0M1254 579h0M1260 964h0M1273 1099h0M1285 1093h0M1281 799h0M1291 1310h0M1295 1297h0M1292 654h0M1301 1039h0M1313 532h0M1323 1056h0M1324 554h0M1331 925h0M1338 835h0M1342 822h0M1352 802h0M1360 1354h0M1362 866h0M1362 559h0M1373 651h0M1371 525h0M1380 1343h0M1383 869h0M1379 770h0M1390 877h0M1422 637h0M1420 608h0M1431 631h0M1431 477h0M1431 450h0M1439 1169h0M1462 642h0M1468 468h0M1483 785h0M1490 890h0M1491 625h0M1493 402h0M1504 899h0M1501 661h0M1511 698h0M1519 803h0M1541 1141h0M1541 750h0M1552 759h0M1551 396h0M1583 742h0M1591 1155h0M1587 1056h0M1589 1043h0M1590 1029h0M1590 1015h0M1611 837h0M1613 516h0M1611 348h0M1620 1152h0M1620 538h0M1620 384h0M1628 1146h0M1632 812h0M1632 798h0M1639 973h0M1650 800h0M1650 311h0M1657 1045h0M1661 557h0M1673 985h0M1670 663h0M1679 741h0M1690 1168h0M1689 638h0M1690 470h0M1702 409h0M1698 366h0M1699 339h0M1710 878h0M1710 571h0M1718 997h0M1718 900h0M1730 1104h0M1728 796h0M1730 713h0M1728 363h0M1728 266h0"/>
<path stroke="#3fca8e" d="M441 770h0M438 755h0M452 653h0M482 789h0M491 658h0M508 1162h0M523 1297h0M518 808h0M525 1165h0M530 1138h0M531 649h0M533 482h0M550 973h0M559 1274h0M560 1065h0M561 967h0M558 729h0M570 1269h0M569 654h0M580 1109h0M578 495h0M588 685h0M590 671h0M588 643h0M588 461h0M600 791h0M611 744h0M611 716h0M611 464h0M616 779h0M630 830h0M629 579h0M630 551h0M629 453h0M640 545h0M639 447h0M661 869h0M667 1226h0M680 774h0M688 838h0M686 684h0M699 748h0M699 455h0M709 464h0M718 1156h0M740 349h0M759 701h0M775 647h0M778 424h0M778 340h0M789 586h0M795 985h0M797 343h0M809 770h0M808 309h0M818 415h0M835 445h0M848 454h0M856 1132h0M861 798h0M864 1112h0M869 876h0M879 898h0M877 367h0M887 1102h0M889 725h0M887 599h0M885 473h0M884 361h0M897 1026h0M895 844h0M914 1070h0M917 1043h0M916 638h0M929 1051h0M925 981h0M926 730h0M927 716h0M936 850h0M937 348h0M944 621h0M948 607h0M950 496h0M958 1021h0M957 1006h0M960 798h0M968 736h0M966 652h0M986 878h0M983 682h0M987 333h0M987 291h0M995 816h0M994 355h0M1005 601h0M1005 350h0M1017 665h0M1014 651h0M1015 567h0M1015 442h0M1016 330h0M1027 883h0M1028 869h0M1025 450h0M1028 255h0M1037 542h0M1035 430h0M1045 885h0M1044 466h0M1100 1431h0M1090 1304h0M1097 844h0M1105 748h0M1109 707h0M1109 1397h0M1109 853h0M1111 742h0M1120 673h0M1133 1484h0M1131 1372h0M1125 897h0M1133 947h0M1150 1333h0M1150 761h0M1160 1327h0M1173 1448h0M1190 1296h0M1186 1128h0M1188 947h0M1202 1403h0M1197 900h0M1200 886h0M1206 720h0M1205 678h0M1204 650h0M1211 867h0M1223 959h0M1223 792h0M1222 708h0M1230 1218h0M1232 1177h0M1231 953h0M1242 1352h0M1245 1116h0M1243 724h0M1249 642h0M1245 585h0M1250 928h0M1261 1355h0M1261 1341h0M1263 811h0M1260 768h0M1270 889h0M1273 875h0M1283 562h0M1283 534h0M1292 612h0M1289 556h0M1291 514h0M1301 746h0M1303 607h0M1305 593h0M1301 551h0M1315 1369h0M1313 992h0M1312 908h0M1314 587h0M1323 903h0M1320 818h0M1333 953h0M1343 1268h0M1341 542h0M1350 941h0M1351 537h0M1359 893h0M1369 497h0M1430 882h0M1440 862h0M1442 486h0M1451 871h0M1458 474h0M1471 1139h0M1472 748h0M1479 979h0M1480 840h0M1490 834h0M1492 751h0M1500 633h0M1511 474h0M1532 631h0M1540 1197h0M1558 1157h0M1562 1032h0M1561 711h0M1572 1139h0M1600 758h0M1598 507h0M1612 376h0M1619 1096h0M1617 886h0M1622 329h0M1643 876h0M1642 806h0M1639 442h0M1640 373h0M1646 729h0M1658 934h0M1658 724h0M1670 1110h0M1670 956h0M1669 314h0M1681 979h0M1682 658h0M1678 587h0M1681 322h0M1700 1163h0M1699 534h0M1710 1031h0M1709 794h0M1708 598h0M1718 1151h0M1721 328h0M1731 1048h0M1728 740h0M1727 559h0"/>
<path stroke="#4acb84" d="M430 1362h0M430 1348h0M442 1356h0M441 784h0M461 1219h0M460 772h0M470 585h0M480 649h0M490 1342h0M491 1272h0M491 1174h0M502 1295h0M500 1141h0M500 610h0M498 568h0M497 512h0M511 800h0M509 549h0M520 1269h0M518 1045h0M531 789h0M537 1062h0M543 476h0M551 791h0M561 1191h0M558 1162h0M559 632h0M568 1226h0M570 1185h0M567 668h0M579 942h0M580 788h0M590 783h0M589 406h0M598 1237h0M598 916h0M600 777h0M597 442h0M608 827h0M619 794h0M619 724h0M619 403h0M636 880h0M648 1209h0M650 414h0M657 882h0M659 743h0M669 709h0M679 788h0M678 690h0M689 642h0M710 757h0M709 673h0M718 723h0M730 425h0M729 355h0M737 684h0M738 377h0M737 335h0M749 329h0M761 743h0M757 630h0M776 675h0M778 354h0M787 697h0M787 432h0M790 363h0M798 720h0M798 650h0M795 287h0M807 1035h0M809 589h0M811 352h0M818 736h0M828 326h0M826 298h0M837 725h0M839 600h0M836 543h0M849 706h0M858 854h0M855 839h0M858 686h0M859 281h0M868 1071h0M868 820h0M867 736h0M869 304h0M879 842h0M877 814h0M876 632h0M874 311h0M876 242h0M887 655h0M889 320h0M887 236h0M896 803h0M897 761h0M899 329h0M906 797h0M908 630h0M905 462h0M909 379h0M907 364h0M917 1001h0M915 959h0M916 833h0M918 736h0M917 512h0M926 772h0M931 424h0M937 459h0M946 984h0M948 789h0M945 635h0M947 468h0M955 992h0M965 1056h0M969 331h0M966 317h0M978 953h0M978 786h0M976 757h0M986 850h0M985 724h0M986 640h0M997 649h0M1006 894h0M1006 768h0M1015 1028h0M1015 721h0M1013 413h0M1025 980h0M1025 408h0M1029 325h0M1025 310h0M1038 710h0M1038 529h0M1035 319h0M1045 746h0M1047 704h0M1049 537h0M1056 782h0M1057 643h0M1057 447h0M1057 350h0M1115 666h0M1106 1411h0M1117 1322h0M1129 1344h0M1139 690h0M1143 781h0M1147 712h0M1154 879h0M1161 783h0M1167 902h0M1179 1079h0M1192 1409h0M1219 1377h0M1217 930h0M1218 888h0M1232 1372h0M1229 897h0M1234 660h0M1240 1143h0M1264 1328h0M1274 1266h0M1266 1027h0M1283 1330h0M1283 1107h0M1281 939h0M1302 1388h0M1298 1234h0M1302 844h0M1305 949h0M1313 880h0M1319 1293h0M1333 1330h0M1332 869h0M1333 827h0M1332 562h0M1341 1017h0M1340 863h0M1342 808h0M1343 654h0M1344 571h0M1341 556h0M1349 857h0M1362 880h0M1361 740h0M1362 615h0M1361 587h0M1371 1335h0M1372 1293h0M1380 575h0M1384 506h0M1392 947h0M1388 890h0M1399 787h0M1399 578h0M1409 572h0M1429 1315h0M1427 1175h0M1482 770h0M1481 477h0M1483 422h0M1500 1052h0M1501 689h0M1498 619h0M1512 1200h0M1513 893h0M1513 740h0M1522 469h0M1539 708h0M1552 1178h0M1549 1010h0M1556 1171h0M1560 1130h0M1563 1005h0M1562 572h0M1570 1152h0M1572 817h0M1573 734h0M1582 449h0M1595 1128h0M1590 792h0M1611 1200h0M1609 920h0M1620 1138h0M1623 971h0M1619 412h0M1629 1118h0M1629 895h0M1632 532h0M1639 1043h0M1640 415h0M1650 1051h0M1652 954h0M1650 898h0M1651 856h0M1650 814h0M1649 521h0M1659 920h0M1655 738h0M1666 900h0M1672 300h0M1679 755h0M1678 476h0M1679 294h0M1692 1085h0M1688 330h0M1710 1087h0M1712 1060h0M1711 850h0M1707 347h0M1728 894h0M1730 643h0M1728 503h0M1725 405h0"/>
<path stroke="#57cc7a" d="M441 1147h0M439 616h0M449 1350h0M469 1171h0M470 1144h0M468 627h0M479 1249h0M480 1110h0M480 635h0M479 579h0M491 1286h0M501 1308h0M500 1210h0M509 618h0M520 557h0M530 803h0M529 761h0M538 1146h0M539 978h0M540 797h0M550 1182h0M548 1154h0M550 1071h0M557 995h0M560 981h0M570 1283h0M568 1143h0M580 1277h0M578 453h0M588 880h0M589 489h0M611 730h0M609 422h0M620 822h0M620 738h0M626 843h0M637 419h0M658 1204h0M658 408h0M705 519h0M726 438h0M760 463h0M758 310h0M778 703h0M787 502h0M798 734h0M798 413h0M798 371h0M798 357h0M806 616h0M808 477h0M808 323h0M818 667h0M816 359h0M816 289h0M826 605h0M826 284h0M836 1032h0M838 627h0M848 720h0M845 412h0M849 287h0M857 965h0M859 951h0M856 909h0M858 477h0M865 1099h0M865 1057h0M866 1043h0M867 457h0M877 1107h0M877 702h0M878 465h0M891 963h0M897 901h0M893 704h0M898 566h0M907 1063h0M908 1007h0M905 895h0M905 615h0M907 225h0M917 764h0M915 666h0M919 415h0M919 317h0M926 786h0M926 311h0M937 934h0M940 543h0M935 473h0M945 1040h0M955 838h0M955 545h0M966 1028h0M967 694h0M978 1009h0M979 660h0M977 506h0M978 479h0M975 339h0M989 515h0M986 417h0M996 704h0M1006 824h0M1016 554h0M1014 539h0M1018 400h0M1017 191h0M1025 799h0M1027 436h0M1028 395h0M1036 1017h0M1033 807h0M1036 752h0M1035 458h0M1035 277h0M1036 263h0M1047 593h0M1047 565h0M1056 950h0M1058 657h0M1058 615h0M1101 1459h0M1091 871h0M1115 1468h0M1110 1439h0M1118 715h0M1125 883h0M1130 800h0M1140 648h0M1137 1352h0M1140 850h0M1142 795h0M1140 738h0M1145 871h0M1150 747h0M1160 679h0M1173 1434h0M1170 1364h0M1183 1456h0M1180 1330h0M1179 1190h0M1181 786h0M1190 1436h0M1192 683h0M1203 1375h0M1213 1439h0M1210 1313h0M1216 560h0M1219 1321h0M1221 1168h0M1221 749h0M1226 1148h0M1228 687h0M1240 1171h0M1247 1234h0M1264 1146h0M1264 532h0M1274 582h0M1278 1273h0M1285 954h0M1285 577h0M1283 520h0M1292 1394h0M1301 1346h0M1299 1011h0M1312 894h0M1325 1280h0M1321 595h0M1335 1051h0M1333 1009h0M1332 548h0M1343 1310h0M1342 891h0M1342 584h0M1341 514h0M1350 732h0M1350 550h0M1369 902h0M1371 804h0M1368 776h0M1372 637h0M1370 623h0M1385 911h0M1383 478h0M1400 885h0M1400 592h0M1400 550h0M1413 936h0M1422 874h0M1422 497h0M1432 547h0M1431 491h0M1428 435h0M1442 584h0M1444 500h0M1463 1173h0M1463 852h0M1461 614h0M1472 776h0M1481 407h0M1489 876h0M1491 848h0M1504 1150h0M1500 926h0M1500 856h0M1503 731h0M1500 703h0M1499 479h0M1520 901h0M1519 454h0M1534 729h0M1541 1016h0M1539 443h0M1548 912h0M1560 739h0M1562 376h0M1571 748h0M1572 650h0M1579 993h0M1582 575h0M1593 1211h0M1590 429h0M1600 661h0M1599 493h0M1612 1144h0M1614 572h0M1620 1166h0M1618 942h0M1631 574h0M1632 518h0M1640 708h0M1642 499h0M1650 702h0M1647 604h0M1662 1088h0M1661 543h0M1666 1039h0M1669 998h0M1680 1146h0M1675 726h0M1690 1126h0M1690 1112h0M1691 1015h0M1690 582h0M1699 1079h0M1719 1026h0M1719 523h0M1729 1145h0M1730 1034h0M1732 1006h0"/>
<path stroke="#64cd6f" d="M443 1342h0M440 630h0M460 1009h0M470 1241h0M481 1054h0M480 621h0M489 1160h0M492 784h0M501 1266h0M500 1168h0M512 1205h0M520 1227h0M529 607h0M542 1230h0M540 1174h0M538 629h0M538 461h0M549 1210h0M548 1112h0M571 752h0M567 738h0M580 747h0M590 657h0M600 484h0M609 757h0M618 444h0M647 1251h0M665 751h0M667 737h0M677 452h0M689 852h0M711 478h0M740 405h0M777 661h0M798 594h0M809 756h0M807 700h0M818 569h0M827 451h0M826 423h0M835 683h0M845 747h0M847 733h0M858 1035h0M856 811h0M858 728h0M856 672h0M858 644h0M856 337h0M866 1127h0M866 1015h0M867 973h0M867 834h0M865 792h0M877 940h0M878 856h0M877 563h0M897 928h0M898 817h0M898 691h0M895 467h0M898 370h0M907 937h0M909 560h0M908 309h0M919 331h0M916 303h0M926 1093h0M925 1023h0M928 325h0M927 297h0M936 948h0M946 844h0M947 342h0M956 936h0M958 741h0M976 1037h0M977 856h0M984 1045h0M988 1004h0M984 361h0M994 341h0M1006 447h0M1015 470h0M1017 456h0M1026 897h0M1025 729h0M1037 989h0M1038 934h0M1032 821h0M1036 682h0M1036 361h0M1047 984h0M1054 894h0M1057 685h0M1053 433h0M1107 720h0M1115 1405h0M1118 1392h0M1124 709h0M1129 842h0M1134 807h0M1165 1468h0M1159 1425h0M1162 1342h0M1164 700h0M1173 1462h0M1169 791h0M1180 1358h0M1180 1344h0M1180 1260h0M1187 961h0M1203 1291h0M1197 913h0M1214 1398h0M1210 1174h0M1210 741h0M1222 1420h0M1218 1154h0M1233 800h0M1232 730h0M1240 1366h0M1242 1241h0M1242 822h0M1251 1221h0M1254 1180h0M1248 1053h0M1250 788h0M1264 1258h0M1277 1406h0M1272 1112h0M1283 1260h0M1282 1065h0M1280 618h0M1290 919h0M1292 864h0M1291 542h0M1299 1318h0M1307 566h0M1315 1286h0M1312 517h0M1318 1376h0M1323 987h0M1318 944h0M1321 637h0M1333 1358h0M1336 1275h0M1332 687h0M1331 534h0M1350 871h0M1356 496h0M1360 908h0M1371 721h0M1384 520h0M1393 1254h0M1393 961h0M1390 570h0M1411 684h0M1410 600h0M1452 899h0M1461 865h0M1471 525h0M1480 505h0M1521 1013h0M1519 873h0M1529 658h0M1541 388h0M1549 703h0M1552 452h0M1557 934h0M1574 832h0M1567 719h0M1568 370h0M1581 1021h0M1580 937h0M1594 583h0M1600 786h0M1602 535h0M1612 1214h0M1614 879h0M1619 551h0M1621 468h0M1631 1105h0M1629 1048h0M1630 965h0M1632 407h0M1629 378h0M1642 1127h0M1638 903h0M1638 610h0M1649 772h0M1650 535h0M1646 478h0M1661 1185h0M1658 1171h0M1659 976h0M1658 961h0M1659 836h0M1671 831h0M1665 746h0M1668 425h0M1670 356h0M1676 1117h0M1689 931h0M1695 1050h0M1699 660h0M1703 395h0M1700 353h0M1710 934h0M1709 696h0M1719 760h0M1724 384h0M1730 699h0"/>
<path stroke="#72cd64" d="M433 1083h0M432 790h0M441 1105h0M472 1186h0M480 1333h0M479 1319h0M492 1105h0M490 630h0M509 1302h0M518 1241h0M517 1185h0M528 523h0M540 643h0M539 518h0M548 484h0M559 786h0M561 604h0M569 1199h0M570 640h0M588 824h0M590 755h0M599 707h0M611 1218h0M607 673h0M610 408h0M620 752h0M628 732h0M641 406h0M648 874h0M659 729h0M677 732h0M679 397h0M688 433h0M728 676h0M757 645h0M788 725h0M788 684h0M787 670h0M786 613h0M788 335h0M796 775h0M798 678h0M797 468h0M800 399h0M807 491h0M807 365h0M808 337h0M818 471h0M819 346h0M837 1046h0M835 362h0M845 1054h0M848 761h0M847 622h0M849 524h0M856 1063h0M859 742h0M856 323h0M868 946h0M868 666h0M867 652h0M868 261h0M868 248h0M885 1073h0M886 822h0M888 697h0M896 831h0M898 664h0M898 552h0M898 398h0M908 993h0M905 657h0M917 847h0M919 541h0M917 498h0M928 1065h0M927 995h0M928 591h0M935 780h0M939 529h0M940 418h0M948 970h0M956 1048h0M958 671h0M964 428h0M977 381h0M987 961h0M1000 984h0M995 886h0M994 173h0M1007 811h0M1010 783h0M1005 713h0M1008 685h0M1004 322h0M1007 280h0M1016 958h0M1017 805h0M1015 595h0M1028 297h0M1037 738h0M1038 696h0M1037 417h0M1044 438h0M1054 852h0M1056 670h0M1097 1347h0M1110 1425h0M1103 908h0M1113 756h0M1122 1462h0M1123 1434h0M1135 745h0M1136 717h0M1140 1408h0M1148 684h0M1155 1474h0M1153 1445h0M1144 927h0M1154 720h0M1170 777h0M1197 1382h0M1215 658h0M1223 1392h0M1229 1316h0M1228 1302h0M1229 1260h0M1231 828h0M1237 577h0M1235 549h0M1236 1310h0M1241 1213h0M1240 947h0M1242 668h0M1249 1388h0M1249 1290h0M1258 866h0M1270 916h0M1268 860h0M1283 1246h0M1294 1339h0M1299 983h0M1311 1089h0M1322 1335h0M1321 1014h0M1332 1344h0M1342 919h0M1343 640h0M1351 1318h0M1351 927h0M1363 1313h0M1361 517h0M1379 882h0M1398 605h0M1410 516h0M1423 1223h0M1432 659h0M1431 617h0M1439 876h0M1440 709h0M1447 912h0M1469 901h0M1471 860h0M1473 846h0M1481 1063h0M1482 756h0M1490 1197h0M1494 500h0M1502 717h0M1510 976h0M1512 432h0M1534 1217h0M1529 1202h0M1530 840h0M1531 421h0M1539 1239h0M1551 1205h0M1548 1079h0M1552 1024h0M1551 787h0M1559 725h0M1564 586h0M1573 1195h0M1566 788h0M1575 908h0M1580 476h0M1579 462h0M1593 1169h0M1593 1072h0M1586 652h0M1592 611h0M1598 1149h0M1598 618h0M1611 1158h0M1614 1116h0M1619 1208h0M1621 984h0M1619 956h0M1617 844h0M1619 607h0M1621 580h0M1619 509h0M1627 783h0M1632 393h0M1641 554h0M1651 842h0M1653 507h0M1665 1053h0M1670 914h0M1679 559h0M1687 986h0M1692 945h0M1689 679h0M1689 554h0M1697 813h0M1698 729h0M1707 807h0M1709 584h0M1712 557h0M1722 1096h0M1721 719h0M1717 411h0M1715 369h0M1731 587h0"/>
<path stroke="#81cc59" d="M430 845h0M452 1309h0M469 1018h0M470 1004h0M489 1146h0M488 1132h0M490 993h0M512 1289h0M522 1255h0M517 780h0M518 654h0M518 626h0M538 1160h0M549 1140h0M549 540h0M552 471h0M557 743h0M560 618h0M560 493h0M568 947h0M570 920h0M578 1263h0M578 1193h0M578 928h0M579 676h0M590 1257h0M591 1230h0M586 922h0M597 874h0M598 665h0M608 883h0M618 500h0M630 746h0M626 662h0M628 620h0M630 565h0M630 411h0M669 668h0M679 718h0M688 656h0M688 628h0M700 763h0M697 469h0M718 667h0M730 732h0M728 717h0M736 488h0M749 720h0M749 706h0M769 681h0M769 569h0M787 600h0M798 301h0M818 499h0M816 331h0M826 968h0M828 563h0M846 957h0M846 929h0M858 490h0M857 253h0M867 778h0M866 554h0M877 298h0M888 892h0M897 733h0M896 496h0M908 714h0M906 490h0M916 708h0M917 233h0M929 940h0M926 911h0M924 520h0M935 1017h0M936 766h0M936 668h0M936 445h0M936 306h0M944 956h0M947 775h0M958 658h0M967 777h0M969 415h0M975 1050h0M976 688h0M977 493h0M978 297h0M986 1017h0M984 975h0M986 766h0M985 738h0M995 662h0M1007 489h0M1006 308h0M1026 841h0M1025 757h0M1027 548h0M1038 766h0M1044 1025h0M1046 997h0M1045 899h0M1043 801h0M1047 620h0M1053 712h0M1055 391h0M1093 913h0M1105 880h0M1120 847h0M1114 777h0M1126 723h0M1129 1400h0M1124 813h0M1133 731h0M1135 877h0M1150 629h0M1147 802h0M1154 692h0M1151 649h0M1169 1336h0M1165 888h0M1183 1372h0M1175 952h0M1201 1445h0M1203 1417h0M1201 1263h0M1213 1286h0M1214 644h0M1222 1280h0M1222 1210h0M1222 861h0M1227 555h0M1232 1288h0M1244 1325h0M1242 1283h0M1252 621h0M1257 594h0M1260 1201h0M1261 922h0M1263 881h0M1262 546h0M1273 1350h0M1271 1126h0M1271 540h0M1279 1134h0M1304 1333h0M1300 1137h0M1309 1229h0M1318 497h0M1333 1023h0M1331 994h0M1350 843h0M1361 992h0M1361 950h0M1362 629h0M1363 545h0M1368 790h0M1383 1274h0M1393 458h0M1401 927h0M1402 871h0M1412 1326h0M1411 782h0M1430 533h0M1439 597h0M1443 542h0M1453 634h0M1461 586h0M1459 516h0M1471 1041h0M1471 497h0M1481 1147h0M1479 1133h0M1480 630h0M1489 1169h0M1490 1141h0M1489 694h0M1497 1205h0M1501 494h0M1509 1256h0M1514 796h0M1531 1021h0M1542 1044h0M1540 792h0M1539 694h0M1543 486h0M1549 730h0M1563 1200h0M1560 823h0M1560 390h0M1571 761h0M1567 691h0M1579 1048h0M1582 896h0M1584 826h0M1579 783h0M1576 699h0M1589 1141h0M1589 1001h0M1591 959h0M1590 680h0M1600 1065h0M1601 1010h0M1608 1129h0M1606 612h0M1603 500h0M1631 1090h0M1630 727h0M1638 917h0M1641 861h0M1642 778h0M1637 763h0M1648 827h0M1651 577h0M1672 873h0M1668 509h0M1672 482h0M1674 1047h0M1678 950h0M1681 937h0M1683 909h0M1681 434h0M1704 1135h0M1698 757h0M1700 674h0M1711 1018h0M1712 976h0M1710 738h0M1711 669h0M1722 1054h0M1719 970h0M1723 705h0M1729 420h0M1732 392h0"/>
<path stroke="#8fcb4e" d="M432 1292h0M438 1258h0M439 1216h0M438 1118h0M449 1183h0M471 781h0M480 1166h0M479 1152h0M479 607h0M489 797h0M499 1057h0M500 624h0M508 1107h0M519 613h0M516 528h0M529 1151h0M529 1123h0M528 1067h0M529 565h0M540 546h0M551 917h0M550 819h0M568 835h0M569 487h0M580 732h0M586 852h0M588 727h0M608 687h0M609 590h0M627 1234h0M629 648h0M628 425h0M648 483h0M646 371h0M659 673h0M688 461h0M698 623h0M737 698h0M737 432h0M736 321h0M749 399h0M769 709h0M769 346h0M780 396h0M788 656h0M787 628h0M806 979h0M816 555h0M827 675h0M827 507h0M836 948h0M840 460h0M847 985h0M858 1119h0M865 805h0M868 275h0M876 437h0M887 613h0M897 873h0M907 406h0M916 1015h0M919 457h0M926 1009h0M928 884h0M927 842h0M925 646h0M927 409h0M936 654h0M944 1011h0M946 942h0M948 300h0M956 1062h0M956 559h0M957 420h0M966 973h0M965 958h0M968 791h0M977 437h0M984 1031h0M987 989h0M987 808h0M987 403h0M984 179h0M994 1025h0M997 788h0M996 760h0M996 718h0M998 593h0M998 286h0M1005 657h0M1006 545h0M1007 420h0M1008 197h0M1016 875h0M1013 707h0M1017 679h0M1016 526h0M1016 386h0M1028 772h0M1045 690h0M1057 824h0M1057 755h0M1104 866h0M1115 728h0M1113 686h0M1116 902h0M1144 1451h0M1155 1404h0M1153 789h0M1161 623h0M1170 1420h0M1177 883h0M1176 841h0M1193 1367h0M1189 1324h0M1190 892h0M1201 956h0M1205 636h0M1210 1383h0M1205 1326h0M1207 824h0M1214 616h0M1222 1364h0M1220 847h0M1217 721h0M1227 653h0M1226 597h0M1235 1414h0M1229 1246h0M1233 563h0M1245 1395h0M1244 1157h0M1240 808h0M1251 1277h0M1257 1284h0M1260 936h0M1265 560h0M1285 1400h0M1301 1305h0M1306 1250h0M1301 1123h0M1301 1109h0M1301 1067h0M1301 928h0M1302 509h0M1314 1313h0M1327 1245h0M1329 1036h0M1343 989h0M1338 960h0M1360 963h0M1372 1349h0M1376 973h0M1370 944h0M1378 1245h0M1379 952h0M1380 924h0M1393 626h0M1402 620h0M1411 1242h0M1412 559h0M1422 1195h0M1419 525h0M1453 1234h0M1452 955h0M1463 1061h0M1460 879h0M1460 418h0M1483 1050h0M1502 1220h0M1502 1164h0M1511 991h0M1510 628h0M1521 1250h0M1521 1195h0M1523 720h0M1522 636h0M1523 413h0M1538 1169h0M1544 1030h0M1541 569h0M1551 1136h0M1552 1052h0M1550 996h0M1552 857h0M1553 815h0M1550 675h0M1563 1186h0M1559 809h0M1559 753h0M1574 985h0M1567 677h0M1571 622h0M1568 468h0M1576 797h0M1582 714h0M1581 365h0M1593 667h0M1600 1121h0M1604 885h0M1598 465h0M1602 382h0M1610 906h0M1628 909h0M1626 741h0M1640 1001h0M1639 833h0M1645 793h0M1641 652h0M1642 527h0M1639 470h0M1653 563h0M1649 437h0M1650 381h0M1658 1115h0M1661 780h0M1657 710h0M1658 612h0M1661 585h0M1658 305h0M1667 718h0M1666 592h0M1670 579h0M1670 440h0M1670 412h0M1684 1077h0M1681 1062h0M1680 839h0M1674 768h0M1679 545h0M1691 973h0M1685 888h0M1690 610h0M1702 800h0M1704 465h0M1701 451h0M1709 529h0M1720 1109h0M1720 956h0M1722 844h0M1720 691h0M1723 552h0M1730 1132h0M1726 977h0M1732 965h0M1730 866h0M1730 615h0M1731 532h0M1729 280h0"/>
<path stroke="#9dc943" d="M428 1333h0M431 1250h0M440 1300h0M440 1091h0M442 1077h0M459 842h0M469 1325h0M472 767h0M482 1180h0M480 1138h0M478 1124h0M490 1202h0M489 1048h0M498 1112h0M498 540h0M509 632h0M521 1311h0M529 858h0M540 1244h0M550 959h0M550 624h0M548 512h0M559 1176h0M598 763h0M600 749h0M609 855h0M608 785h0M618 626h0M620 417h0M628 1248h0M627 788h0M628 634h0M640 573h0M647 609h0M649 442h0M652 400h0M658 366h0M669 654h0M668 430h0M669 402h0M669 360h0M688 475h0M697 678h0M696 636h0M697 441h0M707 770h0M718 444h0M720 430h0M718 360h0M728 703h0M729 410h0M758 505h0M767 695h0M768 639h0M767 499h0M787 418h0M799 762h0M797 692h0M797 664h0M797 580h0M797 482h0M817 541h0M818 485h0M828 466h0M828 340h0M845 914h0M847 817h0M847 496h0M866 331h0M875 1093h0M877 1051h0M888 1060h0M894 1082h0M897 579h0M898 440h0M905 1020h0M907 602h0M907 253h0M918 903h0M917 554h0M926 967h0M927 688h0M926 632h0M928 465h0M937 920h0M936 571h0M934 556h0M937 431h0M945 565h0M947 370h0M957 922h0M967 1001h0M967 303h0M977 967h0M987 864h0M988 501h0M986 347h0M998 802h0M997 746h0M993 578h0M999 510h0M996 202h0M1004 1020h0M1004 908h0M1006 336h0M1018 1001h0M1016 791h0M1020 778h0M1027 855h0M1027 660h0M1035 626h0M1035 556h0M1034 444h0M1037 249h0M1045 871h0M1044 718h0M1047 425h0M1047 286h0M1057 1006h0M1056 629h0M1059 504h0M1055 293h0M1110 623h0M1109 811h0M1147 1480h0M1140 766h0M1141 669h0M1163 1412h0M1173 680h0M1212 1411h0M1233 1275h0M1231 632h0M1243 1199h0M1255 538h0M1258 1243h0M1259 1159h0M1259 796h0M1274 624h0M1281 911h0M1289 1114h0M1290 1101h0M1292 710h0M1310 1257h0M1309 1103h0M1315 937h0M1324 1266h0M1320 972h0M1325 582h0M1330 910h0M1332 590h0M1334 506h0M1344 501h0M1348 1304h0M1350 1248h0M1350 913h0M1361 810h0M1370 483h0M1381 1301h0M1388 513h0M1400 941h0M1418 1320h0M1426 1252h0M1433 1008h0M1436 506h0M1444 947h0M1447 640h0M1451 885h0M1451 522h0M1459 1144h0M1471 1181h0M1473 413h0M1490 429h0M1494 416h0M1500 1192h0M1500 968h0M1500 438h0M1513 1242h0M1510 1186h0M1510 655h0M1509 460h0M1521 441h0M1529 1189h0M1542 778h0M1542 457h0M1540 401h0M1549 870h0M1550 465h0M1560 1074h0M1560 1046h0M1566 782h0M1572 1222h0M1571 636h0M1573 538h0M1571 454h0M1583 840h0M1586 380h0M1590 1113h0M1592 750h0M1592 527h0M1601 940h0M1601 842h0M1600 744h0M1603 703h0M1613 1088h0M1610 1060h0M1613 600h0M1610 543h0M1623 1055h0M1624 706h0M1629 881h0M1644 1197h0M1636 623h0M1640 540h0M1647 1023h0M1648 1009h0M1663 1032h0M1663 879h0M1656 472h0M1668 788h0M1674 894h0M1680 504h0M1679 462h0M1688 763h0M1700 911h0M1698 897h0M1711 1045h0M1708 626h0M1722 1040h0M1721 942h0M1718 579h0M1727 880h0M1731 783h0M1729 350h0"/>
<path stroke="#abc739" d="M450 1225h0M461 1149h0M459 619h0M472 1297h0M471 1060h0M479 1235h0M480 594h0M490 1230h0M490 1118h0M509 576h0M531 1250h0M529 1040h0M528 1026h0M532 984h0M529 537h0M539 1090h0M540 616h0M549 1126h0M561 953h0M570 794h0M579 635h0M581 412h0M589 475h0M599 805h0M600 721h0M617 668h0M648 539h0M657 464h0M667 695h0M675 703h0M677 662h0M688 391h0M696 692h0M727 759h0M739 461h0M738 363h0M749 692h0M759 449h0M768 430h0M787 488h0M809 575h0M825 591h0M827 577h0M837 502h0M837 488h0M858 979h0M867 1029h0M879 1024h0M878 786h0M887 669h0M896 1068h0M897 1012h0M899 915h0M896 607h0M907 867h0M909 435h0M908 323h0M908 295h0M917 624h0M916 610h0M917 443h0M918 401h0M927 1037h0M928 381h0M936 1087h0M937 1004h0M937 752h0M937 641h0M938 501h0M946 914h0M947 677h0M944 551h0M955 964h0M955 950h0M965 288h0M987 696h0M985 668h0M986 277h0M985 207h0M998 230h0M1006 978h0M1007 755h0M1007 741h0M1006 182h0M1016 986h0M1016 888h0M1018 847h0M1015 735h0M1014 693h0M1017 624h0M1015 274h0M1026 967h0M1026 911h0M1027 785h0M1025 701h0M1025 269h0M1039 836h0M1043 815h0M1046 606h0M1088 898h0M1111 679h0M1103 894h0M1129 696h0M1162 1453h0M1167 958h0M1183 1414h0M1190 1241h0M1192 934h0M1191 794h0M1199 872h0M1199 844h0M1208 566h0M1214 1300h0M1213 783h0M1216 630h0M1220 1252h0M1228 1343h0M1250 1361h0M1256 1348h0M1250 1249h0M1265 1272h0M1265 1104h0M1260 950h0M1268 1279h0M1270 1238h0M1281 1232h0M1301 1095h0M1300 872h0M1313 964h0M1316 560h0M1324 1029h0M1340 975h0M1348 1234h0M1356 984h0M1361 922h0M1361 503h0M1362 489h0M1374 1321h0M1370 888h0M1381 1259h0M1386 1009h0M1400 1290h0M1402 1165h0M1400 522h0M1404 467h0M1409 1019h0M1416 922h0M1421 972h0M1420 930h0M1430 896h0M1441 932h0M1454 983h0M1457 858h0M1459 530h0M1484 1176h0M1480 1035h0M1492 1072h0M1490 946h0M1492 514h0M1487 457h0M1500 1261h0M1503 1178h0M1500 1136h0M1503 1011h0M1499 982h0M1501 954h0M1501 424h0M1512 1228h0M1511 1130h0M1509 851h0M1520 1236h0M1519 789h0M1528 448h0M1541 1127h0M1535 917h0M1541 373h0M1549 1121h0M1554 1038h0M1547 772h0M1561 1144h0M1560 865h0M1584 1217h0M1582 1091h0M1603 1192h0M1601 1135h0M1599 870h0M1598 674h0M1603 605h0M1608 1003h0M1608 892h0M1620 356h0M1629 1006h0M1635 617h0M1636 735h0M1653 1080h0M1651 995h0M1651 968h0M1652 688h0M1663 809h0M1656 752h0M1671 523h0M1668 495h0M1671 398h0M1675 670h0M1679 420h0M1686 721h0M1697 715h0M1698 520h0M1710 836h0M1716 432h0M1709 361h0M1717 802h0M1721 677h0M1724 538h0M1726 1061h0M1729 755h0"/>
<path stroke="#b9c431" d="M440 1174h0M450 1336h0M449 1294h0M451 1197h0M450 1155h0M450 1057h0M451 792h0M459 1358h0M462 1345h0M460 1079h0M461 1052h0M460 1038h0M480 1040h0M489 1076h0M490 1007h0M499 1084h0M508 1009h0M508 813h0M520 794h0M529 1110h0M539 1132h0M539 532h0M549 596h0M568 863h0M579 872h0M577 467h0M589 1243h0M597 902h0M599 833h0M599 554h0M608 478h0M619 919h0M619 514h0M620 459h0M627 439h0M628 397h0M638 657h0M636 600h0M638 433h0M657 687h0M690 782h0M699 413h0M718 695h0M750 637h0M758 379h0M768 304h0M787 572h0M798 622h0M797 496h0M807 519h0M816 317h0M816 303h0M828 438h0M838 474h0M846 342h0M867 987h0M868 959h0M878 968h0M887 1018h0M895 677h0M898 649h0M896 426h0M896 356h0M895 300h0M906 979h0M906 923h0M914 1028h0M918 820h0M918 429h0M928 702h0M926 618h0M927 241h0M937 990h0M938 892h0M937 585h0M938 376h0M946 425h0M957 909h0M956 685h0M967 987h0M977 674h0M976 367h0M997 998h0M997 551h0M995 411h0M996 397h0M996 188h0M1006 992h0M1007 852h0M1008 588h0M1017 972h0M1016 903h0M1015 204h0M1027 925h0M1027 716h0M1026 618h0M1028 576h0M1027 492h0M1039 291h0M1035 235h0M1037 179h0M1047 174h0M1046 160h0M1057 978h0M1099 817h0M1117 861h0M1137 1380h0M1134 821h0M1152 1347h0M1183 1317h0M1186 1254h0M1239 1254h0M1247 843h0M1249 802h0M1255 649h0M1270 1223h0M1279 1218h0M1280 883h0M1303 914h0M1322 1042h0M1319 1000h0M1321 525h0M1336 577h0M1327 491h0M1353 1227h0M1371 1181h0M1371 469h0M1377 896h0M1391 1184h0M1402 1248h0M1417 1258h0M1405 1186h0M1409 893h0M1428 1168h0M1420 902h0M1435 1246h0M1431 519h0M1440 527h0M1446 1191h0M1453 1151h0M1452 452h0M1460 600h0M1480 1231h0M1479 896h0M1492 1226h0M1492 444h0M1499 1247h0M1512 1145h0M1517 1006h0M1527 1146h0M1528 756h0M1531 742h0M1532 477h0M1543 862h0M1553 969h0M1554 717h0M1561 1116h0M1560 1088h0M1564 851h0M1558 794h0M1560 641h0M1563 600h0M1558 473h0M1571 1083h0M1571 1041h0M1573 1027h0M1572 845h0M1573 776h0M1574 511h0M1567 481h0M1580 1118h0M1579 1076h0M1579 1063h0M1581 965h0M1579 755h0M1580 644h0M1579 560h0M1590 890h0M1594 569h0M1590 471h0M1590 457h0M1605 1094h0M1597 911h0M1597 688h0M1603 563h0M1611 1186h0M1616 810h0M1614 725h0M1610 487h0M1613 418h0M1621 929h0M1630 1062h0M1630 853h0M1628 755h0M1643 1099h0M1639 819h0M1639 512h0M1634 483h0M1637 456h0M1652 1093h0M1651 982h0M1657 766h0M1661 571h0M1656 500h0M1670 1026h0M1664 732h0M1675 991h0M1680 574h0M1688 917h0M1686 833h0M1688 749h0M1692 401h0M1688 288h0M1700 981h0M1701 939h0M1699 492h0M1710 1129h0M1712 864h0M1713 781h0M1708 654h0M1709 417h0M1720 1123h0M1714 885h0M1732 1076h0M1727 573h0"/>
<path stroke="#c5c22a" d="M428 1124h0M443 798h0M462 1191h0M470 613h0M480 1222h0M481 1208h0M479 998h0M489 1034h0M500 1099h0M509 1135h0M519 543h0M530 621h0M540 1020h0M550 1238h0M551 610h0M578 900h0M587 796h0M597 637h0M610 799h0M611 702h0M619 542h0M618 528h0M619 389h0M638 461h0M648 469h0M648 427h0M658 436h0M668 639h0M668 472h0M669 444h0M687 712h0M689 419h0M699 776h0M699 372h0M709 617h0M707 421h0M718 486h0M729 466h0M739 712h0M738 475h0M746 482h0M756 477h0M768 485h0M787 641h0M848 692h0M848 510h0M856 1021h0M858 1007h0M857 714h0M855 532h0M869 681h0M877 647h0M885 1045h0M908 476h0M917 889h0M916 289h0M916 247h0M939 697h0M946 1082h0M957 574h0M956 462h0M966 931h0M966 596h0M966 219h0M976 562h0M975 283h0M997 1054h0M998 956h0M997 914h0M996 900h0M996 537h0M1008 1048h0M1004 880h0M1018 917h0M1016 260h0M1016 177h0M1027 632h0M1036 668h0M1037 654h0M1037 166h0M1045 243h0M1106 734h0M1125 1490h0M1111 888h0M1120 806h0M1129 654h0M1132 675h0M1150 1375h0M1169 673h0M1170 945h0M1179 1400h0M1174 896h0M1192 1395h0M1196 669h0M1207 1243h0M1210 769h0M1234 1331h0M1232 702h0M1245 1339h0M1290 1282h0M1292 1268h0M1290 1184h0M1289 1142h0M1289 1072h0M1311 1299h0M1310 1145h0M1307 1047h0M1314 923h0M1311 545h0M1313 504h0M1317 1139h0M1329 1371h0M1333 1316h0M1331 967h0M1340 947h0M1354 1012h0M1354 956h0M1362 531h0M1380 1050h0M1391 1324h0M1390 1240h0M1394 473h0M1400 983h0M1410 586h0M1420 553h0M1432 1064h0M1433 980h0M1440 1198h0M1443 1156h0M1441 960h0M1446 459h0M1451 1164h0M1449 1052h0M1459 907h0M1462 628h0M1474 1153h0M1484 910h0M1478 867h0M1495 1184h0M1495 1156h0M1490 597h0M1501 745h0M1503 648h0M1518 929h0M1520 845h0M1530 854h0M1533 714h0M1530 686h0M1530 463h0M1551 1150h0M1556 620h0M1565 894h0M1560 767h0M1558 487h0M1562 460h0M1574 567h0M1573 399h0M1579 1202h0M1581 1105h0M1583 770h0M1578 546h0M1591 1225h0M1591 1183h0M1586 693h0M1599 1205h0M1599 1051h0M1600 982h0M1599 828h0M1602 577h0M1599 395h0M1611 1172h0M1610 1074h0M1607 766h0M1613 530h0M1615 1011h0M1620 901h0M1623 803h0M1617 495h0M1632 1202h0M1629 951h0M1629 839h0M1629 629h0M1640 722h0M1652 493h0M1647 422h0M1656 682h0M1662 641h0M1670 384h0M1681 1174h0M1679 1132h0M1679 1034h0M1678 824h0M1699 618h0M1710 1143h0M1710 1115h0M1722 775h0M1719 481h0M1732 923h0"/>
<path stroke="#d1bf27" d="M431 803h0M441 1133h0M452 1071h0M449 1029h0M459 1177h0M470 1311h0M470 1255h0M469 1199h0M469 878h0M470 850h0M482 1292h0M480 1068h0M479 872h0M490 1216h0M488 615h0M500 1336h0M499 987h0M509 1191h0M519 1143h0M519 822h0M528 830h0M531 817h0M530 551h0M540 1104h0M540 504h0M569 878h0M568 501h0M579 914h0M577 886h0M578 844h0M581 593h0M579 579h0M599 889h0M609 520h0M610 394h0M629 690h0M628 481h0M668 528h0M678 676h0M687 670h0M689 377h0M698 525h0M706 714h0M709 603h0M718 681h0M719 472h0M727 326h0M748 678h0M748 371h0M758 673h0M777 689h0M776 619h0M827 521h0M837 557h0M848 1041h0M848 259h0M858 700h0M869 471h0M887 990h0M887 250h0M897 482h0M898 245h0M906 1076h0M907 853h0M908 448h0M917 568h0M925 953h0M926 856h0M927 576h0M936 1059h0M935 906h0M936 627h0M937 389h0M946 453h0M957 1034h0M956 601h0M966 917h0M967 442h0M976 883h0M975 590h0M977 241h0M977 227h0M997 481h0M995 327h0M994 299h0M1005 838h0M1006 224h0M1016 819h0M1014 162h0M1026 1008h0M1027 995h0M1025 282h0M1027 185h0M1036 961h0M1037 905h0M1035 723h0M1054 810h0M1057 419h0M1055 307h0M1055 280h0M1109 693h0M1118 1475h0M1133 668h0M1131 1470h0M1138 662h0M1147 642h0M1150 817h0M1159 839h0M1187 606h0M1188 578h0M1191 627h0M1204 1431h0M1201 1319h0M1209 664h0M1210 839h0M1233 814h0M1233 618h0M1245 655h0M1243 557h0M1249 1304h0M1253 914h0M1254 817h0M1275 1169h0M1275 959h0M1275 527h0M1292 1254h0M1294 1227h0M1309 1131h0M1320 1251h0M1321 1223h0M1332 1232h0M1331 981h0M1341 1003h0M1349 1025h0M1370 1175h0M1383 1329h0M1384 1037h0M1380 994h0M1384 464h0M1394 1045h0M1401 1234h0M1402 536h0M1411 907h0M1422 1237h0M1418 1180h0M1435 925h0M1429 589h0M1439 471h0M1461 949h0M1460 921h0M1475 916h0M1469 580h0M1471 511h0M1481 994h0M1482 435h0M1491 1211h0M1492 681h0M1497 1024h0M1504 997h0M1500 871h0M1510 921h0M1507 878h0M1513 489h0M1513 391h0M1523 1055h0M1520 775h0M1523 399h0M1525 1230h0M1529 1174h0M1531 868h0M1535 603h0M1531 588h0M1541 1058h0M1542 932h0M1543 821h0M1545 437h0M1552 382h0M1562 1060h0M1562 991h0M1560 920h0M1559 529h0M1567 1235h0M1577 609h0M1573 594h0M1568 551h0M1570 440h0M1583 1035h0M1577 923h0M1582 602h0M1581 588h0M1584 505h0M1602 424h0M1613 963h0M1621 1110h0M1628 699h0M1631 504h0M1627 489h0M1641 1085h0M1641 848h0M1640 582h0M1658 431h0M1670 551h0M1681 1104h0M1677 880h0M1680 629h0M1678 531h0M1679 518h0M1686 1042h0M1686 414h0M1708 1073h0M1709 710h0M1705 500h0M1707 291h0M1718 1137h0M1722 859h0M1718 509h0M1717 495h0M1731 1118h0M1729 824h0M1729 727h0M1729 685h0"/>
<path stroke="#dcbd29" d="M432 1208h0M431 957h0M440 1328h0M440 1272h0M451 1141h0M449 834h0M459 1023h0M460 786h0M471 1213h0M470 1032h0M479 803h0M499 1182h0M510 1121h0M521 990h0M519 864h0M520 599h0M528 1095h0M531 873h0M540 1118h0M540 992h0M539 964h0M539 881h0M549 861h0M580 774h0M578 621h0M590 615h0M598 693h0M609 646h0M608 506h0M618 472h0M628 537h0M637 1229h0M637 768h0M640 741h0M649 707h0M649 693h0M649 511h0M649 455h0M679 634h0M678 369h0M689 489h0M698 720h0M718 458h0M767 625h0M777 494h0M798 524h0M806 602h0M806 281h0M816 596h0M838 530h0M847 677h0M846 580h0M848 482h0M866 722h0M865 568h0M867 527h0M876 772h0M878 493h0M887 487h0M888 292h0M904 1034h0M908 644h0M918 876h0M917 861h0M928 870h0M928 395h0M927 228h0M936 613h0M937 361h0M936 319h0M936 292h0M936 236h0M947 872h0M946 579h0M947 230h0M947 216h0M956 867h0M956 252h0M969 875h0M978 870h0M976 213h0M986 431h0M995 830h0M997 258h0M1005 1034h0M1027 939h0M1057 838h0M1095 886h0M1112 1482h0M1129 786h0M1140 634h0M1143 697h0M1177 653h0M1178 827h0M1182 674h0M1189 1338h0M1186 863h0M1188 836h0M1203 775h0M1211 811h0M1219 798h0M1225 624h0M1262 1230h0M1270 1182h0M1268 1153h0M1282 1204h0M1323 1238h0M1324 540h0M1333 1260h0M1347 1185h0M1350 969h0M1364 978h0M1374 1168h0M1373 1070h0M1372 916h0M1380 1189h0M1381 1176h0M1383 492h0M1390 1030h0M1401 1332h0M1402 997h0M1409 544h0M1420 581h0M1434 994h0M1431 966h0M1439 1058h0M1439 890h0M1443 514h0M1449 1136h0M1449 1108h0M1453 1011h0M1453 480h0M1451 466h0M1463 1187h0M1463 1159h0M1460 1047h0M1462 489h0M1473 1167h0M1471 455h0M1471 427h0M1482 938h0M1483 463h0M1488 610h0M1511 1019h0M1510 907h0M1510 865h0M1508 585h0M1521 971h0M1520 887h0M1522 552h0M1532 1007h0M1534 994h0M1533 938h0M1527 923h0M1523 810h0M1530 407h0M1541 904h0M1538 834h0M1539 764h0M1544 625h0M1547 598h0M1540 583h0M1547 1247h0M1546 939h0M1556 550h0M1562 684h0M1565 544h0M1559 418h0M1571 1208h0M1570 915h0M1579 434h0M1590 904h0M1587 847h0M1592 499h0M1604 954h0M1609 1046h0M1608 948h0M1610 585h0M1623 1180h0M1624 1083h0M1622 720h0M1617 677h0M1620 370h0M1631 1077h0M1639 1182h0M1639 749h0M1642 596h0M1651 619h0M1662 795h0M1655 696h0M1671 970h0M1669 565h0M1671 454h0M1680 811h0M1677 489h0M1688 847h0M1690 694h0M1692 457h0M1701 1037h0M1701 870h0M1701 856h0M1698 827h0M1704 689h0M1704 605h0M1711 962h0M1705 751h0M1712 445h0M1718 732h0M1736 658h0"/>
<path stroke="#e6bb2d" d="M429 1375h0M429 1096h0M441 1203h0M439 1188h0M440 1007h0M449 1238h0M450 1169h0M451 1099h0M460 1289h0M459 1261h0M460 1247h0M479 1096h0M489 588h0M489 560h0M499 1154h0M499 805h0M499 596h0M520 571h0M530 844h0M540 839h0M540 602h0M549 875h0M559 911h0M559 897h0M558 548h0M557 506h0M568 808h0M569 626h0M570 543h0M570 529h0M581 607h0M589 629h0M589 503h0M597 860h0M601 624h0M600 526h0M607 841h0M610 660h0M610 492h0M620 863h0M617 640h0M618 486h0M629 676h0M630 593h0M629 495h0M628 383h0M635 754h0M637 586h0M648 651h0M657 715h0M659 534h0M678 494h0M685 697h0M697 706h0M698 399h0M707 701h0M717 709h0M728 396h0M747 315h0M758 393h0M760 366h0M765 471h0M776 717h0M777 633h0M778 578h0M777 522h0M787 293h0M798 538h0M807 546h0M817 611h0M828 633h0M858 267h0M878 1066h0M877 688h0M879 549h0M876 479h0M886 1088h0M886 683h0M886 557h0M888 278h0M897 286h0M898 272h0M896 230h0M907 546h0M909 393h0M916 1057h0M918 987h0M916 973h0M917 219h0M926 283h0M939 1032h0M946 398h0M947 286h0M956 699h0M957 294h0M957 225h0M966 205h0M977 576h0M986 919h0M985 905h0M987 557h0M986 542h0M996 1012h0M996 495h0M996 425h0M1005 573h0M1024 813h0M1037 1031h0M1037 152h0M1046 299h0M1045 187h0M1057 992h0M1055 964h0M1055 740h0M1058 727h0M1054 224h0M1129 856h0M1142 655h0M1153 664h0M1170 1406h0M1184 800h0M1189 1450h0M1204 580h0M1224 638h0M1236 605h0M1242 613h0M1252 1207h0M1292 906h0M1316 1160h0M1331 1288h0M1336 1281h0M1341 1226h0M1362 1285h0M1372 1042h0M1370 1028h0M1400 1220h0M1400 1025h0M1401 955h0M1411 1284h0M1410 1228h0M1433 1162h0M1449 508h0M1463 1201h0M1460 1075h0M1461 935h0M1458 460h0M1469 1236h0M1471 1055h0M1471 608h0M1472 483h0M1483 1245h0M1479 1217h0M1480 575h0M1483 519h0M1489 1085h0M1489 1043h0M1495 884h0M1500 605h0M1498 451h0M1521 1167h0M1522 860h0M1522 622h0M1518 566h0M1533 1161h0M1533 896h0M1529 881h0M1531 672h0M1548 688h0M1551 605h0M1558 1213h0M1562 949h0M1581 1175h0M1578 853h0M1579 616h0M1579 393h0M1587 484h0M1588 415h0M1596 897h0M1600 367h0M1611 1032h0M1611 851h0M1604 654h0M1622 817h0M1616 760h0M1620 733h0M1623 594h0M1622 524h0M1620 482h0M1631 420h0M1641 987h0M1639 680h0M1653 786h0M1661 1074h0M1670 775h0M1665 690h0M1672 538h0M1682 797h0M1690 861h0M1687 819h0M1690 708h0M1698 478h0M1700 381h0M1708 640h0M1710 487h0M1713 459h0M1715 745h0M1724 663h0M1717 620h0M1712 605h0"/>
<path stroke="#f0ba36" d="M430 1236h0M430 761h0M439 965h0M451 1085h0M450 1001h0M461 870h0M461 814h0M469 1046h0M481 1306h0M479 1194h0M490 1063h0M487 825h0M510 1274h0M508 1149h0M510 981h0M518 585h0M530 1082h0M530 900h0M550 805h0M558 813h0M559 576h0M567 472h0M588 894h0M587 866h0M608 618h0M620 584h0M640 503h0M649 498h0M656 701h0M699 483h0M709 659h0M707 631h0M718 500h0M738 670h0M740 642h0M748 511h0M808 561h0M808 533h0M847 999h0M858 546h0M867 499h0M877 1037h0M877 256h0M885 1004h0M895 1040h0M895 970h0M908 1049h0M917 485h0M926 925h0M936 878h0M937 208h0M948 1026h0M946 244h0M956 894h0M955 448h0M956 434h0M957 239h0M966 679h0M968 261h0M977 800h0M979 256h0M987 892h0M985 752h0M986 654h0M986 222h0M996 607h0M997 216h0M1005 168h0M1027 1037h0M1026 171h0M1046 1011h0M1046 662h0M1055 922h0M1137 704h0M1160 595h0M1157 866h0M1156 796h0M1177 667h0M1192 1311h0M1198 572h0M1210 595h0M1213 881h0M1221 1406h0M1222 1336h0M1219 1237h0M1227 611h0M1233 1386h0M1244 1381h0M1251 1375h0M1255 566h0M1276 1336h0M1270 1209h0M1284 1177h0M1277 1120h0M1307 1292h0M1299 1178h0M1300 1081h0M1302 886h0M1322 1126h0M1333 1302h0M1369 1209h0M1375 1203h0M1383 1022h0M1390 1337h0M1395 1003h0M1389 527h0M1402 969h0M1418 1264h0M1419 1209h0M1433 1232h0M1435 953h0M1432 938h0M1441 556h0M1464 503h0M1485 952h0M1481 617h0M1492 1002h0M1493 905h0M1488 471h0M1509 1096h0M1497 577h0M1501 536h0M1516 1159h0M1509 1032h0M1511 963h0M1510 935h0M1508 446h0M1516 914h0M1518 580h0M1516 426h0M1526 386h0M1534 1245h0M1532 980h0M1530 965h0M1530 909h0M1532 784h0M1534 394h0M1547 1073h0M1550 1233h0M1551 1219h0M1547 493h0M1556 1241h0M1560 1228h0M1562 558h0M1570 999h0M1569 970h0M1569 859h0M1567 523h0M1574 385h0M1577 420h0M1584 351h0M1591 1099h0M1590 973h0M1591 918h0M1591 820h0M1594 346h0M1603 1164h0M1603 968h0M1604 801h0M1604 438h0M1613 977h0M1618 775h0M1620 635h0M1621 454h0M1644 960h0M1647 464h0M1659 599h0M1667 816h0M1668 607h0M1667 467h0M1684 867h0M1681 783h0M1697 883h0M1703 591h0M1708 514h0M1713 376h0M1719 830h0"/>
<path stroke="#f8ba3d" d="M430 1264h0M431 1138h0M440 1244h0M441 826h0M461 1205h0M461 856h0M459 828h0M470 1269h0M471 864h0M470 836h0M469 822h0M481 775h0M489 1314h0M489 881h0M498 1071h0M500 1001h0M498 791h0M499 582h0M520 850h0M538 825h0M580 663h0M600 652h0M608 534h0M639 699h0M638 615h0M638 517h0M659 659h0M658 617h0M658 547h0M659 450h0M668 681h0M667 598h0M698 609h0M707 687h0M708 450h0M718 653h0M729 648h0M739 656h0M759 659h0M758 575h0M779 564h0M780 536h0M788 516h0M798 552h0M806 295h0M869 387h0M886 1032h0M887 976h0M886 627h0M918 373h0M928 898h0M937 599h0M937 264h0M948 440h0M957 281h0M967 1015h0M968 568h0M976 548h0M977 520h0M988 794h0M985 584h0M986 193h0M1008 1006h0M1009 504h0M1006 210h0M1016 944h0M1016 219h0M1028 227h0M1025 199h0M1045 941h0M1044 829h0M1045 146h0M1057 936h0M1055 908h0M1116 652h0M1138 836h0M1172 618h0M1167 589h0M1172 1350h0M1167 637h0M1178 625h0M1179 1442h0M1180 1428h0M1181 939h0M1181 856h0M1189 850h0M1194 641h0M1201 830h0M1199 788h0M1206 608h0M1211 1425h0M1280 1190h0M1296 529h0M1302 1277h0M1321 1349h0M1333 813h0M1339 1240h0M1355 1207h0M1351 1067h0M1357 524h0M1375 1014h0M1386 1163h0M1403 1262h0M1403 1011h0M1412 1215h0M1414 1034h0M1433 1287h0M1428 1273h0M1443 1240h0M1445 1212h0M1458 1179h0M1453 536h0M1460 1228h0M1471 1250h0M1483 603h0M1487 1113h0M1503 508h0M1522 1223h0M1519 1096h0M1521 1069h0M1520 985h0M1524 609h0M1523 483h0M1528 1049h0M1531 826h0M1529 379h0M1540 1211h0M1540 499h0M1543 430h0M1553 1094h0M1553 982h0M1555 578h0M1552 424h0M1571 901h0M1580 951h0M1592 1085h0M1591 987h0M1590 945h0M1594 639h0M1593 388h0M1592 373h0M1601 814h0M1605 731h0M1602 479h0M1611 990h0M1608 682h0M1620 1026h0M1628 1188h0M1629 979h0M1629 937h0M1629 923h0M1631 602h0M1650 926h0M1654 452h0M1657 1017h0M1665 676h0M1677 643h0M1687 735h0M1699 841h0M1717 1067h0M1732 811h0"/>
<path stroke="#febe3c" d="M429 1222h0M441 839h0M449 806h0M460 1135h0M469 1227h0M471 1074h0M471 795h0M478 830h0M491 937h0M498 1126h0M500 875h0M501 862h0M509 1037h0M510 870h0M509 842h0M509 562h0M518 1073h0M539 1006h0M541 895h0M539 560h0M550 498h0M558 869h0M559 799h0M568 905h0M569 822h0M577 858h0M587 838h0M600 582h0M597 539h0M611 576h0M618 682h0M618 598h0M626 759h0M628 718h0M648 581h0M669 486h0M678 648h0M680 383h0M689 545h0M710 506h0M717 513h0M729 452h0M739 517h0M748 650h0M746 622h0M768 555h0M777 605h0M828 479h0M836 585h0M866 540h0M866 485h0M869 290h0M877 535h0M876 521h0M878 284h0M877 270h0M888 934h0M896 998h0M906 965h0M917 931h0M926 479h0M936 250h0M977 939h0M988 236h0M1026 1023h0M1048 732h0M1046 257h0M1057 866h0M1119 659h0M1127 625h0M1188 1352h0M1201 1361h0M1202 1347h0M1197 1332h0M1223 778h0M1221 666h0M1238 1296h0M1249 572h0M1265 1174h0M1276 1197h0M1294 1325h0M1289 1128h0M1301 1151h0M1325 1182h0M1320 1084h0M1340 1254h0M1361 1299h0M1366 1146h0M1363 1006h0M1373 1238h0M1370 930h0M1383 1288h0M1388 1309h0M1394 1171h0M1392 989h0M1401 1178h0M1400 1136h0M1403 899h0M1409 1270h0M1409 1172h0M1414 992h0M1424 916h0M1443 1142h0M1441 1128h0M1441 1044h0M1439 1030h0M1455 1095h0M1453 969h0M1453 927h0M1462 1103h0M1465 447h0M1471 1223h0M1471 999h0M1472 986h0M1475 442h0M1481 1161h0M1476 923h0M1483 533h0M1491 1281h0M1487 973h0M1491 918h0M1491 527h0M1490 485h0M1498 549h0M1494 465h0M1511 1214h0M1517 1152h0M1521 1139h0M1521 1111h0M1531 617h0M1540 1225h0M1545 556h0M1550 898h0M1551 884h0M1550 633h0M1561 502h0M1569 929h0M1577 888h0M1594 932h0M1590 596h0M1600 926h0M1611 739h0M1610 459h0M1608 445h0M1611 362h0M1619 914h0M1621 859h0M1618 789h0M1620 649h0M1629 992h0M1628 769h0M1630 434h0M1639 401h0M1648 409h0M1664 949h0M1659 654h0M1672 1082h0M1674 803h0M1671 705h0M1669 649h0M1679 601h0M1692 1029h0M1693 806h0M1689 512h0M1702 507h0M1703 423h0M1709 682h0M1721 649h0M1720 453h0M1730 853h0M1728 489h0"/>
<path stroke="#fec338" d="M430 1278h0M430 1068h0M439 1286h0M450 1015h0M449 987h0M451 918h0M459 1093h0M470 1130h0M470 809h0M480 887h0M480 817h0M511 856h0M509 828h0M509 604h0M519 1101h0M530 970h0M539 811h0M559 562h0M559 520h0M568 584h0M577 830h0M579 816h0M577 648h0M580 537h0M590 587h0M599 512h0M598 498h0M608 562h0M648 679h0M648 595h0M657 645h0M658 631h0M659 478h0M658 422h0M678 578h0M678 536h0M680 523h0M679 467h0M679 425h0M689 405h0M708 366h0M708 338h0M717 416h0M728 662h0M738 502h0M749 664h0M748 525h0M747 357h0M766 513h0M768 457h0M788 349h0M799 329h0M806 504h0M857 560h0M868 1001h0M896 984h0M928 549h0M926 255h0M936 222h0M947 593h0M956 1076h0M967 889h0M968 554h0M975 185h0M987 934h0M987 445h0M995 272h0M1036 947h0M1037 849h0M1037 221h0M1045 229h0M1044 201h0M1056 698h0M1055 405h0M1055 168h0M1056 154h0M1129 612h0M1128 1386h0M1139 620h0M1152 845h0M1157 608h0M1159 811h0M1182 660h0M1195 1423h0M1190 878h0M1193 809h0M1216 832h0M1243 648h0M1262 1188h0M1280 548h0M1306 1166h0M1305 942h0M1310 1215h0M1322 1168h0M1326 1071h0M1361 1061h0M1364 1020h0M1391 1226h0M1403 1276h0M1401 452h0M1410 1298h0M1409 977h0M1420 1139h0M1421 1097h0M1422 1055h0M1421 1000h0M1421 944h0M1420 567h0M1421 539h0M1433 1204h0M1437 1190h0M1430 1022h0M1439 1253h0M1440 974h0M1440 918h0M1448 577h0M1459 1242h0M1459 1130h0M1461 1033h0M1464 433h0M1472 1195h0M1484 1287h0M1480 1189h0M1478 1007h0M1480 547h0M1490 1030h0M1500 1108h0M1499 591h0M1522 999h0M1528 951h0M1530 644h0M1544 611h0M1551 954h0M1550 535h0M1546 409h0M1570 1124h0M1571 1013h0M1570 496h0M1583 980h0M1596 771h0M1600 340h0M1611 934h0M1610 711h0M1623 873h0M1619 831h0M1618 439h0M1630 476h0M1631 462h0M1653 1038h0M1646 632h0M1652 591h0M1655 550h0M1682 1007h0M1689 1098h0M1687 623h0M1688 484h0M1709 612h0M1730 601h0"/>
<path stroke="#fec934" d="M429 1012h0M430 831h0M440 1021h0M439 951h0M450 1267h0M479 1263h0M479 1082h0M491 1300h0M489 602h0M498 847h0M507 1079h0M511 954h0M517 1017h0M520 948h0M529 635h0M540 909h0M538 866h0M537 489h0M549 847h0M550 833h0M568 933h0M570 598h0M579 565h0M598 847h0M609 869h0M611 604h0M629 704h0M639 671h0M639 643h0M639 531h0M639 489h0M647 623h0M648 553h0M660 506h0M679 480h0M696 427h0M706 547h0M719 346h0M731 522h0M757 519h0M767 611h0M776 507h0M846 538h0M857 993h0M877 716h0M888 501h0M888 264h0M926 437h0M947 928h0M967 275h0M966 191h0M976 981h0M975 911h0M988 599h0M986 570h0M995 1039h0M996 565h0M1008 252h0M1016 1014h0M1017 582h0M1025 953h0M1024 240h0M1024 157h0M1035 612h0M1200 621h0M1210 1341h0M1217 602h0M1217 589h0M1222 805h0M1274 568h0M1314 1244h0M1319 1307h0M1321 1112h0M1331 1064h0M1342 1296h0M1342 1031h0M1357 1180h0M1361 1243h0M1357 1214h0M1358 935h0M1373 1307h0M1369 1251h0M1370 1153h0M1379 1105h0M1385 1197h0M1399 1080h0M1417 950h0M1423 595h0M1434 562h0M1452 1067h0M1454 941h0M1464 991h0M1469 566h0M1479 491h0M1480 449h0M1486 1266h0M1494 1100h0M1500 1122h0M1512 1075h0M1528 1090h0M1532 561h0M1532 547h0M1540 1113h0M1544 1086h0M1551 1108h0M1548 828h0M1556 564h0M1553 522h0M1553 368h0M1563 837h0M1557 361h0M1568 426h0M1593 764h0M1589 708h0M1584 358h0M1598 1219h0M1603 857h0M1613 628h0M1621 663h0M1644 695h0M1636 665h0M1656 459h0M1674 943h0M1680 713h0M1690 1056h0M1689 526h0M1702 786h0M1699 771h0M1705 891h0M1717 871h0M1725 475h0"/>
<path stroke="#fccf30" d="M432 1111h0M440 1035h0M441 937h0M440 853h0M450 1280h0M449 1127h0M450 945h0M459 1275h0M460 982h0M471 1116h0M480 845h0M491 1021h0M501 834h0M519 1059h0M520 1004h0M521 878h0M518 836h0M549 903h0M550 889h0M548 568h0M588 810h0M628 522h0M639 713h0M650 735h0M659 562h0M669 514h0M699 665h0M699 539h0M709 533h0M728 550h0M769 597h0M788 530h0M848 552h0M859 519h0M876 1009h0M897 412h0M898 259h0M908 281h0M908 267h0M917 387h0M936 277h0M958 881h0M957 267h0M966 945h0M976 199h0M987 780h0M987 263h0M1016 1042h0M1015 232h0M1046 955h0M1046 928h0M1046 271h0M1056 210h0M1120 618h0M1144 613h0M1157 636h0M1168 833h0M1200 614h0M1187 584h0M1195 857h0M1202 803h0M1249 886h0M1273 1140h0M1286 1163h0M1281 925h0M1293 1199h0M1291 1157h0M1336 1163h0M1330 1078h0M1342 1073h0M1352 1165h0M1355 1054h0M1353 1039h0M1363 1201h0M1362 1048h0M1373 1279h0M1373 1084h0M1370 986h0M1394 1268h0M1402 1206h0M1415 1076h0M1431 1259h0M1443 1268h0M1444 1226h0M1441 1072h0M1440 988h0M1442 905h0M1453 1262h0M1451 1248h0M1455 1039h0M1450 620h0M1454 495h0M1457 1018h0M1470 1097h0M1471 1013h0M1469 552h0M1481 1203h0M1481 1077h0M1488 1239h0M1493 1016h0M1497 1275h0M1505 1067h0M1501 522h0M1514 1173h0M1510 1102h0M1518 1090h0M1505 571h0M1517 1264h0M1516 523h0M1531 1105h0M1528 797h0M1540 1099h0M1536 875h0M1541 527h0M1550 800h0M1561 976h0M1562 614h0M1579 1188h0M1594 737h0M1585 623h0M1593 443h0M1613 432h0M1621 747h0M1631 658h0M1630 448h0M1635 428h0M1656 444h0M1669 621h0M1683 449h0M1695 792h0M1696 1120h0M1733 630h0"/>
<path stroke="#fad62d" d="M429 1180h0M440 1160h0M440 993h0M450 1043h0M450 862h0M460 926h0M468 1101h0M469 1088h0M468 990h0M479 1012h0M489 1090h0M498 819h0M511 995h0M530 886h0M527 579h0M550 931h0M548 526h0M558 883h0M567 849h0M578 523h0M579 481h0M589 517h0M627 606h0M659 603h0M667 625h0M668 416h0M679 508h0M679 355h0M688 531h0M698 385h0M708 380h0M717 374h0M749 385h0M757 616h0M799 511h0M819 527h0M837 571h0M858 504h0M879 996h0M925 562h0M937 1074h0M946 202h0M976 995h0M1007 936h0M1008 238h0M1102 1487h0M1153 851h0M1170 631h0M1188 620h0M1195 655h0M1203 817h0M1220 819h0M1311 1075h0M1360 1187h0M1356 1102h0M1369 1035h0M1369 1265h0M1371 1195h0M1373 1112h0M1381 1232h0M1393 1087h0M1392 1017h0M1398 1094h0M1413 1117h0M1413 964h0M1420 1278h0M1421 1153h0M1421 986h0M1424 958h0M1430 1147h0M1435 1050h0M1430 1036h0M1443 1296h0M1460 1256h0M1462 1117h0M1465 1089h0M1462 544h0M1480 561h0M1494 961h0M1499 940h0M1513 558h0M1521 497h0M1541 639h0M1561 593h0M1559 962h0M1572 943h0M1578 1230h0M1591 834h0M1590 778h0M1590 722h0M1597 995h0M1609 1101h0M1609 794h0M1608 668h0M1627 643h0M1649 674h0M1661 822h0M1676 852h0M1680 699h0M1693 387h0M1726 426h0"/>
<path stroke="#f7dc2a" d="M429 1306h0M429 1194h0M430 1166h0M430 971h0M430 943h0M430 817h0M441 1063h0M440 1049h0M439 811h0M450 931h0M450 848h0M461 1121h0M459 1107h0M460 800h0M480 1026h0M489 867h0M499 1043h0M521 1088h0M527 1011h0M530 942h0M539 936h0M540 588h0M549 554h0M578 509h0M589 531h0M599 470h0M608 548h0M649 525h0M668 612h0M688 614h0M709 561h0M709 491h0M717 388h0M767 583h0M768 527h0M778 550h0M927 604h0M947 886h0M976 897h0M997 942h0M997 928h0M998 244h0M1014 609h0M1016 246h0M1045 913h0M1046 858h0M1056 266h0M1055 182h0M1115 638h0M1136 641h0M1149 830h0M1161 825h0M1179 584h0M1187 591h0M1195 599h0M1224 568h0M1287 1212h0M1318 1209h0M1344 1171h0M1355 998h0M1359 1159h0M1381 1315h0M1374 1216h0M1379 980h0M1387 1100h0M1410 1200h0M1435 1106h0M1452 1025h0M1452 592h0M1463 977h0M1472 930h0M1474 595h0M1493 933h0M1487 555h0M1513 1061h0M1511 1047h0M1511 600h0M1528 1084h0M1524 1041h0M1523 1027h0M1537 1036h0M1532 575h0M1529 435h0M1540 1155h0M1552 843h0M1556 403h0M1571 412h0M1579 630h0M1619 1068h0M1663 627h0M1671 1068h0M1669 635h0M1690 498h0M1696 743h0M1721 439h0M1728 768h0"/>
<path stroke="#f5e327" d="M432 1152h0M430 999h0M450 890h0M452 876h0M459 940h0M480 859h0M499 1029h0M498 945h0M509 925h0M510 884h0M519 906h0M560 590h0M569 556h0M569 515h0M579 551h0M590 601h0M588 559h0M601 596h0M629 509h0M640 727h0M638 475h0M669 556h0M679 620h0M699 651h0M697 343h0M706 575h0M710 408h0M710 352h0M719 584h0M727 494h0M736 530h0M739 391h0M747 580h0M748 566h0M756 686h0M770 542h0M837 516h0M878 507h0M906 239h0M917 945h0M927 269h0M936 864h0M946 1054h0M987 250h0M1007 559h0M1007 266h0M1035 207h0M1036 193h0M1046 760h0M1047 216h0M1117 631h0M1171 805h0M1218 1349h0M1292 933h0M1303 1193h0M1314 1174h0M1337 1114h0M1354 1263h0M1358 1117h0M1372 1098h0M1379 1091h0M1393 975h0M1405 1305h0M1399 1192h0M1422 1083h0M1427 1091h0M1434 911h0M1443 1100h0M1440 1002h0M1452 1122h0M1463 963h0M1472 972h0M1473 539h0M1491 1128h0M1489 1057h0M1508 1269h0M1507 1116h0M1530 1119h0M1534 1078h0M1540 848h0M1548 1163h0M1570 957h0M1576 490h0M1578 406h0M1590 401h0M1610 822h0M1604 779h0M1621 622h0M1640 1029h0M1692 429h0M1700 702h0M1708 822h0M1720 816h0M1717 634h0"/>
<path stroke="#f5e924" d="M429 1054h0M431 887h0M432 859h0M439 895h0M450 904h0M471 906h0M478 984h0M491 965h0M511 1093h0M529 998h0M530 593h0M538 950h0M561 925h0M559 841h0M560 828h0M639 685h0M648 721h0M667 542h0M689 363h0M718 542h0M718 402h0M717 332h0M727 508h0M728 368h0M748 497h0M758 561h0M758 547h0M758 491h0M818 513h0M867 513h0M898 1054h0M916 917h0M946 900h0M946 272h0M948 258h0M968 247h0M997 732h0M1005 950h0M1006 922h0M1017 931h0M1026 673h0M1167 847h0M1190 822h0M1293 1171h0M1303 1221h0M1333 1218h0M1341 1212h0M1349 1220h0M1349 1192h0M1352 1137h0M1352 1109h0M1358 1256h0M1360 1089h0M1371 1000h0M1381 1148h0M1388 1281h0M1401 1158h0M1403 1109h0M1401 1053h0M1403 1039h0M1412 1131h0M1412 1103h0M1412 1005h0M1423 1293h0M1424 1070h0M1421 1013h0M1443 1184h0M1473 1209h0M1472 1111h0M1473 1083h0M1466 1068h0M1480 1119h0M1518 957h0M1523 539h0M1527 1258h0M1534 491h0M1539 973h0M1561 1102h0M1559 906h0M1577 867h0M1600 647h0M1605 634h0M1613 642h0M1611 474h0M1620 1194h0M1620 426h0M1628 1020h0M1636 930h0M1676 685h0M1688 777h0M1708 438h0M1728 838h0M1729 671h0M1732 462h0"/>
<path stroke="#f6ef20" d="M429 1040h0M430 1027h0M449 1113h0M461 912h0M460 898h0M460 884h0M470 976h0M489 839h0M490 811h0M508 939h0M520 1129h0M539 922h0M572 571h0M589 573h0M599 568h0M647 637h0M649 567h0M659 520h0M687 586h0M687 349h0M698 567h0M708 645h0M727 592h0M728 578h0M780 592h0M788 558h0M788 544h0M917 261h0M1026 213h0M1140 606h0M1337 1149h0M1330 1120h0M1329 1092h0M1338 1198h0M1342 1101h0M1340 1058h0M1350 1081h0M1368 1223h0M1384 967h0M1390 1295h0M1402 1318h0M1413 1145h0M1406 1046h0M1424 1028h0M1437 1085h0M1480 965h0M1482 589h0M1487 1253h0M1491 569h0M1501 1038h0M1523 1125h0M1544 891h0M1548 542h0M1540 513h0M1551 926h0M1564 872h0M1596 877h0M1598 1107h0M1602 549h0M1597 451h0M1621 691h0M1630 588h0M1694 443h0M1717 467h0M1727 517h0"/>
<path stroke="#f7f51b" d="M430 901h0M429 873h0M441 868h0M448 819h0M480 956h0M500 959h0M509 967h0M509 898h0M518 962h0M541 853h0M551 582h0M568 891h0M588 545h0M600 610h0M619 696h0M677 410h0M688 572h0M698 581h0M718 556h0M727 634h0M748 553h0M749 539h0M927 1079h0M946 1068h0M957 588h0M957 211h0M976 925h0M1047 844h0M1180 632h0M1327 1105h0M1350 1276h0M1354 1151h0M1349 1122h0M1400 1067h0M1411 1159h0M1405 1088h0M1423 1307h0M1421 1042h0M1437 1309h0M1440 569h0M1447 1303h0M1449 1080h0M1446 996h0M1461 1270h0M1464 1005h0M1455 571h0M1474 1028h0M1472 623h0M1479 1272h0M1487 1106h0M1507 529h0M1533 533h0M1535 805h0M1539 415h0M1560 879h0M1558 431h0M1587 861h0M1602 717h0M1615 698h0M1627 1034h0M1638 1014h0M1635 637h0M1659 669h0M1705 472h0M1721 593h0"/>
<path stroke="#f9fb15" d="M431 985h0M429 929h0M431 915h0M441 979h0M441 923h0M440 909h0M441 881h0M450 973h0M451 960h0M460 996h0M461 968h0M460 954h0M469 962h0M469 948h0M470 934h0M471 920h0M470 892h0M480 970h0M481 943h0M480 929h0M480 915h0M480 901h0M489 979h0M489 951h0M490 923h0M490 909h0M492 895h0M489 853h0M500 1015h0M499 973h0M500 931h0M502 918h0M500 903h0M501 889h0M509 1023h0M510 912h0M509 590h0M517 1031h0M520 976h0M518 933h0M520 920h0M520 892h0M529 956h0M529 928h0M529 914h0M537 573h0M547 944h0M558 939h0M558 855h0M561 535h0M619 612h0M638 628h0M657 589h0M657 575h0M659 492h0M668 584h0M666 569h0M667 500h0M679 606h0M678 592h0M677 564h0M678 550h0M688 600h0M686 558h0M689 517h0M690 503h0M699 595h0M697 553h0M699 511h0M700 497h0M699 358h0M709 589h0M708 394h0M717 639h0M717 625h0M719 612h0M718 597h0M716 569h0M720 528h0M728 620h0M728 606h0M727 564h0M727 536h0M728 382h0M737 628h0M739 614h0M740 600h0M737 586h0M740 573h0M738 558h0M739 544h0M750 609h0M748 594h0M758 603h0M757 589h0M759 533h0M847 566h0M877 982h0M918 275h0M928 214h0M956 196h0M966 903h0M966 582h0M988 948h0M1056 252h0M1055 238h0M1056 196h0M1055 140h0M1122 646h0M1151 601h0M1166 658h0M1159 643h0M1165 602h0M1168 819h0M1179 612h0M1176 597h0M1181 870h0M1180 814h0M1186 647h0M1209 1355h0M1215 574h0M1231 584h0M1297 1206h0M1304 1200h0M1311 1187h0M1310 1117h0M1319 1195h0M1324 1154h0M1322 1098h0M1326 1203h0M1332 1190h0M1335 1177h0M1325 1133h0M1346 1157h0M1346 1143h0M1343 1129h0M1345 1087h0M1348 1290h0M1350 1095h0M1361 1271h0M1368 1132h0M1364 1076h0M1373 1140h0M1373 1126h0M1371 1056h0M1386 1135h0M1381 1120h0M1381 1078h0M1381 1064h0M1390 1212h0M1392 1142h0M1394 1129h0M1389 1114h0M1394 1073h0M1389 1058h0M1401 1150h0M1403 1123h0M1413 1313h0M1411 1061h0M1420 1125h0M1419 1111h0M1431 1301h0M1437 1218h0M1433 1134h0M1429 1119h0M1430 1077h0M1427 574h0M1446 1282h0M1437 1113h0M1441 1016h0M1449 1289h0M1455 1276h0M1449 1220h0M1454 1206h0M1454 564h0M1454 550h0M1459 1298h0M1458 1284h0M1465 1215h0M1463 559h0M1473 1293h0M1470 1278h0M1470 1264h0M1468 1124h0M1471 957h0M1470 943h0M1480 1259h0M1482 1092h0M1491 583h0M1490 541h0M1501 1234h0M1499 1080h0M1497 563h0M1506 948h0M1512 614h0M1509 544h0M1510 516h0M1511 502h0M1521 943h0M1517 593h0M1521 510h0M1533 1063h0M1526 518h0M1529 504h0M1536 1252h0M1539 959h0M1536 945h0M1551 507h0M1561 628h0M1565 517h0M1582 882h0M1597 353h0M1612 865h0M1607 752h0M1632 686h0M1625 671h0M1648 660h0M1648 646h0M1678 615h0M1688 875h0M1690 596h0M1730 448h0M1728 433h0"/>
</g>
<path d="M207.8 451.9L207.8 1332.4L1294.5 1536.5L1922.2 1182M207.8 1206.8L177.1 1202.3M207.8 1067.3L177.1 1062.8M207.8 927.8L177.1 923.3M207.8 788.3L177.1 783.8M207.8 648.8L177.1 644.3M207.8 509.2L177.1 504.7M207.8 1332.4L182 1346.9M570 1400.4L544.2 1414.9M932.3 1468.5L906.5 1483M1294.5 1536.5L1268.7 1551M1483.4 1429.9L1513.4 1436.2M1682.2 1317.6L1712.2 1323.9M1881 1205.3L1911 1211.6" fill="none" stroke="#262626" stroke-width="5" stroke-linejoin="miter"/>
<g font-family="&quot;Liberation Sans&quot;, Arial, Helvetica, sans-serif">
<text transform="translate(825.59 71.18) scale(1.0595 1)" font-size="63.70" fill="#000">Original Method</text>
<text transform="translate(499.29 1642.56) scale(1.0494 1)" font-size="64.77" fill="#262626">Depth(cm)</text>
<text transform="translate(1604.47 1604.77) scale(1.0804 1)" font-size="63.13" fill="#262626">Pixel</text>
<text transform="translate(65.44 962.8) rotate(-90) scale(0.9590 1)" font-size="65.70" fill="#262626">Pixel</text>
<text transform="translate(97.24 1218.99) scale(1.0620 1)" font-size="50.80" fill="#262626">10</text>
<text transform="translate(97.24 1079.47) scale(1.0620 1)" font-size="50.80" fill="#262626">20</text>
<text transform="translate(97.24 939.95) scale(1.0620 1)" font-size="50.80" fill="#262626">30</text>
<text transform="translate(97.24 800.43) scale(1.0620 1)" font-size="50.80" fill="#262626">40</text>
<text transform="translate(97.24 660.91) scale(1.0620 1)" font-size="50.80" fill="#262626">50</text>
<text transform="translate(97.24 521.39) scale(1.0620 1)" font-size="50.80" fill="#262626">60</text>
<text transform="translate(73.08 1406.36) scale(1.0620 1)" font-size="50.80" fill="#262626">200</text>
<text transform="translate(436.01 1474.26) scale(1.0620 1)" font-size="50.80" fill="#262626">150</text>
<text transform="translate(798.91 1542.86) scale(1.0620 1)" font-size="50.80" fill="#262626">100</text>
<text transform="translate(1189.59 1611.46) scale(1.0620 1)" font-size="50.80" fill="#262626">50</text>
<text transform="translate(1527.52 1489.66) scale(1.0620 1)" font-size="50.80" fill="#262626">20</text>
<text transform="translate(1727.66 1377.56) scale(1.0620 1)" font-size="50.80" fill="#262626">40</text>
<text transform="translate(1926.22 1264.76) scale(1.0620 1)" font-size="50.80" fill="#262626">60</text>
<text transform="translate(2189.90 1555.46) scale(1.0450 1)" font-size="47.00" fill="#262626">0</text>
<text transform="translate(2189.90 1411.69) scale(1.0450 1)" font-size="47.00" fill="#262626">0.1</text>
<text transform="translate(2189.90 1267.92) scale(1.0450 1)" font-size="47.00" fill="#262626">0.2</text>
<text transform="translate(2189.90 1124.15) scale(1.0450 1)" font-size="47.00" fill="#262626">0.3</text>
<text transform="translate(2189.90 980.38) scale(1.0450 1)" font-size="47.00" fill="#262626">0.4</text>
<text transform="translate(2189.90 836.61) scale(1.0450 1)" font-size="47.00" fill="#262626">0.5</text>
<text transform="translate(2189.90 692.84) scale(1.0450 1)" font-size="47.00" fill="#262626">0.6</text>
<text transform="translate(2189.90 549.07) scale(1.0450 1)" font-size="47.00" fill="#262626">0.7</text>
<text transform="translate(2189.90 405.30) scale(1.0450 1)" font-size="47.00" fill="#262626">0.8</text>
<text transform="translate(2189.90 261.53) scale(1.0450 1)" font-size="47.00" fill="#262626">0.9</text>
<text transform="translate(2189.90 117.76) scale(1.0450 1)" font-size="47.00" fill="#262626">1</text>
</g>
<defs><linearGradient id="cb" x1="0" y1="0" x2="0" y2="1"><stop offset="0.0000" stop-color="#f9fb15"/><stop offset="0.0159" stop-color="#f7f51b"/><stop offset="0.0317" stop-color="#f6ef20"/><stop offset="0.0476" stop-color="#f5e924"/><stop offset="0.0635" stop-color="#f5e327"/><stop offset="0.0794" stop-color="#f7dc2a"/><stop offset="0.0952" stop-color="#fad62d"/><stop offset="0.1111" stop-color="#fccf30"/><stop offset="0.1270" stop-color="#fec934"/><stop offset="0.1429" stop-color="#fec338"/><stop offset="0.1587" stop-color="#febe3c"/><stop offset="0.1746" stop-color="#f8ba3d"/><stop offset="0.1905" stop-color="#f0ba36"/><stop offset="0.2063" stop-color="#e6bb2d"/><stop offset="0.2222" stop-color="#dcbd29"/><stop offset="0.2381" stop-color="#d1bf27"/><stop offset="0.2540" stop-color="#c5c22a"/><stop offset="0.2698" stop-color="#b9c431"/><stop offset="0.2857" stop-color="#abc739"/><stop offset="0.3016" stop-color="#9dc943"/><stop offset="0.3175" stop-color="#8fcb4e"/><stop offset="0.3333" stop-color="#81cc59"/><stop offset="0.3492" stop-color="#72cd64"/><stop offset="0.3651" stop-color="#64cd6f"/><stop offset="0.3810" stop-color="#57cc7a"/><stop offset="0.3968" stop-color="#4acb84"/><stop offset="0.4127" stop-color="#3fca8e"/><stop offset="0.4286" stop-color="#37c897"/><stop offset="0.4444" stop-color="#31c69f"/><stop offset="0.4603" stop-color="#2cc4a7"/><stop offset="0.4762" stop-color="#24c1ae"/><stop offset="0.4921" stop-color="#19bfb6"/><stop offset="0.5079" stop-color="#0bbdbd"/><stop offset="0.5238" stop-color="#02bac3"/><stop offset="0.5397" stop-color="#01b8ca"/><stop offset="0.5556" stop-color="#08b5d0"/><stop offset="0.5714" stop-color="#12b1d6"/><stop offset="0.5873" stop-color="#18addb"/><stop offset="0.6032" stop-color="#1ca9df"/><stop offset="0.6190" stop-color="#20a5e3"/><stop offset="0.6349" stop-color="#23a0e5"/><stop offset="0.6508" stop-color="#259be8"/><stop offset="0.6667" stop-color="#2797eb"/><stop offset="0.6825" stop-color="#2b91ef"/><stop offset="0.6984" stop-color="#2d8cf3"/><stop offset="0.7143" stop-color="#2e87f7"/><stop offset="0.7302" stop-color="#2f81fa"/><stop offset="0.7460" stop-color="#327cfc"/><stop offset="0.7619" stop-color="#3875fe"/><stop offset="0.7778" stop-color="#3e6fff"/><stop offset="0.7937" stop-color="#4269fe"/><stop offset="0.8095" stop-color="#4563fd"/><stop offset="0.8254" stop-color="#465efb"/><stop offset="0.8413" stop-color="#4758f8"/><stop offset="0.8571" stop-color="#4852f4"/><stop offset="0.8730" stop-color="#484df0"/><stop offset="0.8889" stop-color="#4747eb"/><stop offset="0.9048" stop-color="#4741e5"/><stop offset="0.9206" stop-color="#463cde"/><stop offset="0.9365" stop-color="#4537d5"/><stop offset="0.9524" stop-color="#4332cb"/><stop offset="0.9683" stop-color="#422ec0"/><stop offset="0.9841" stop-color="#402ab4"/><stop offset="1.0000" stop-color="#3e26a8"/></linearGradient></defs>
<rect x="2081.7" y="99.7" width="87.6" height="1437.7" fill="url(#cb)" stroke="#262626" stroke-width="5.4"/>
<path d="M2152 1393.7H2168M2152 1250H2168M2152 1106.2H2168M2152 962.4H2168M2152 818.6H2168M2152 674.9H2168M2152 531.1H2168M2152 387.3H2168M2152 243.6H2168" fill="none" stroke="#262626" stroke-width="4.8"/>
</svg>
</body></html>
